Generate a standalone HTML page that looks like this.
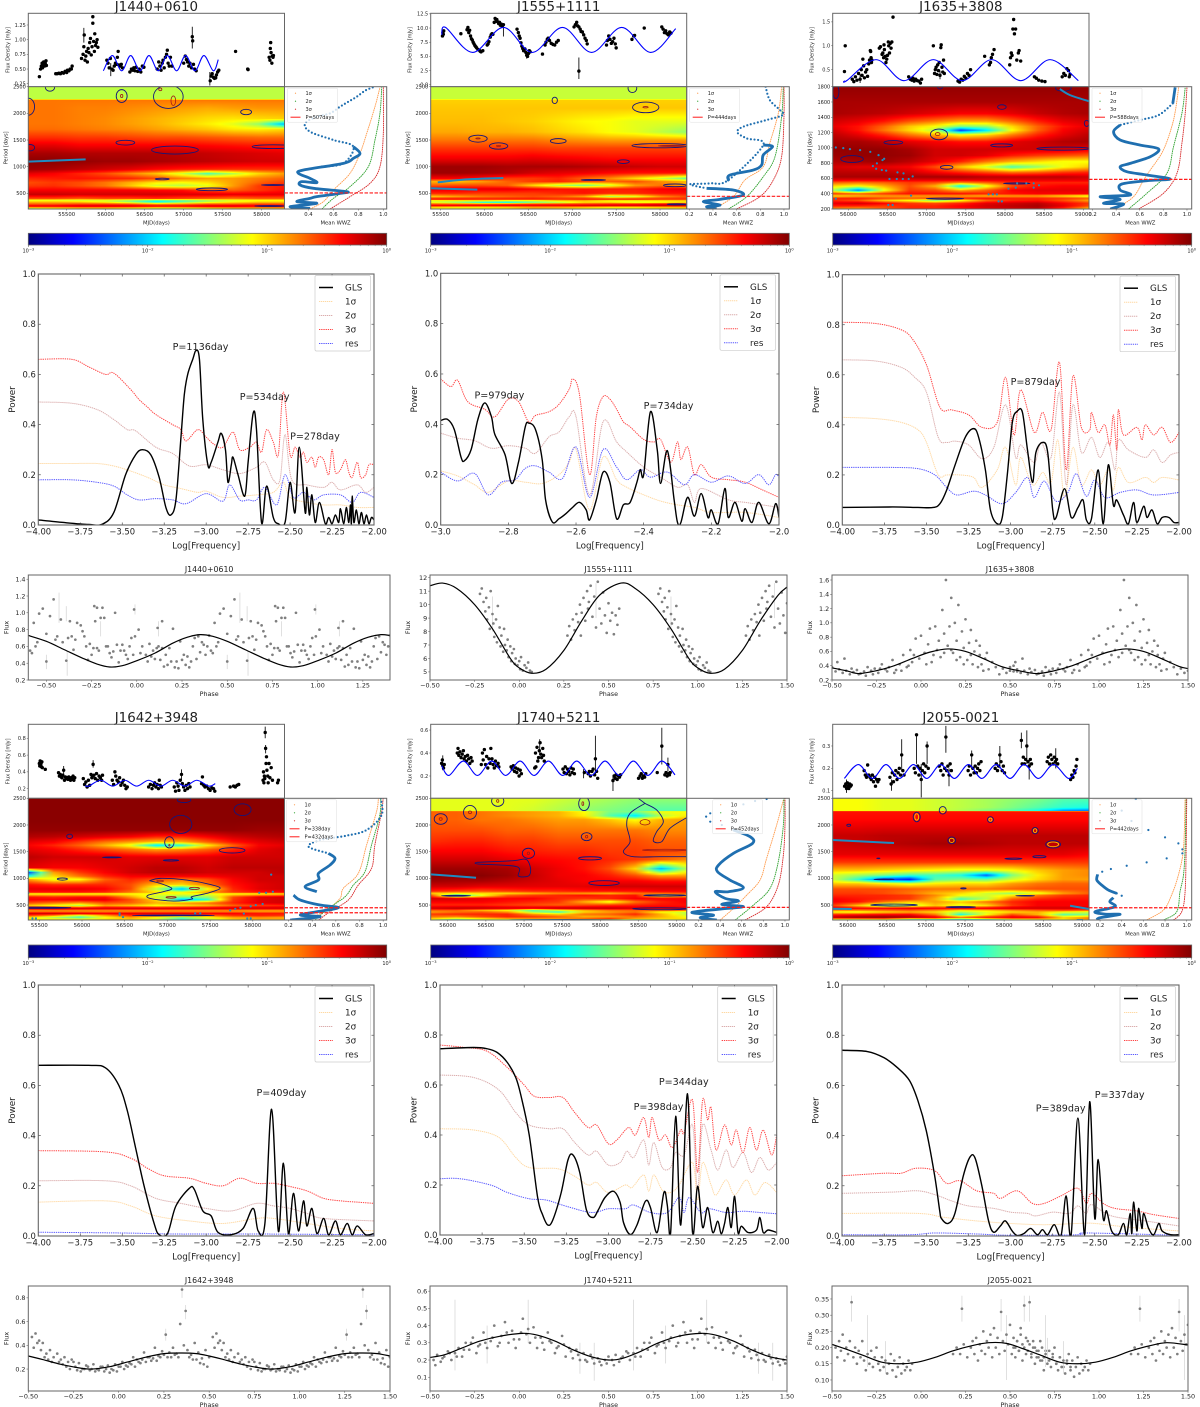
<!DOCTYPE html>
<html><head><meta charset="utf-8"><title>WWZ and GLS periodicity panels</title>
<style>html,body{margin:0;padding:0;background:#fff}svg{display:block}text{font-family:"DejaVu Sans","Liberation Sans",sans-serif;fill:#222}</style>
</head><body>
<svg id="fig" xmlns="http://www.w3.org/2000/svg" width="1200" height="1407" viewBox="0 0 1200 1407"><defs id="defs"></defs></svg>
<script>
/* ---------- J1440+0610 ---------- */
const j1440Lc=[[55150,.37],[55165,.5],[55175,.55],[55185,.6],[55190,.52],[55200,.57],[55205,.62],[55215,.55],[55225,.6],[55235,.64],[55240,.56],[55360,.42],[55380,.42],[55400,.43],[55420,.42],[55440,.44],[55460,.43],[55480,.46],[55500,.44],[55510,.48],[55530,.47],[55545,.5],[55560,.5],[55570,.55],[55690,.68],[55710,.75],[55720,.88],[55725,1.08],[55735,.65],[55745,.72],[55755,.8],[55765,.62],[55775,.85],[55785,.78],[55795,.95],[55805,1.02],[55815,.74],[55825,.88],[55835,1.39],[55835,1.28],[55845,.97],[55855,.8],[55860,1.1],[55870,.9],[55880,.95],[55890,1.0],[55900,.87],[56015,.65],[56030,.6],[56045,.52],[56060,.68],[56080,.5],[56095,.48],[56110,.55],[56125,.6],[56140,.58],[56150,.7],[56160,.8],[56170,.57],[56185,.55],[56200,.58],[56215,.52],[56310,.45],[56330,.5],[56345,.48],[56360,.52],[56375,.47],[56390,.53],[56410,.46],[56430,.5],[56450,.45],[56470,.55],[56490,.53],[56660,.5],[56680,.62],[56695,.55],[56710,.48],[56725,.6],[56735,.65],[56750,.52],[56765,.7],[56780,.75],[56790,.82],[56800,.6],[56815,.55],[56830,.7],[56850,.55],[57000,.6],[57020,.72],[57035,.66],[57050,.62],[57065,.55],[57080,.6],[57100,.52],[57110,1.05],[57115,.98],[57125,.58],[57140,.5],[57160,.47],[57340,.3],[57350,.38],[57365,.42],[57380,.36],[57395,.34],[57410,.35],[57420,.4],[57435,.45],[57450,.48],[57665,.8],[57820,.5],[57825,.49],[58095,.7],[58105,.65],[58110,.85],[58115,.95],[58120,.78],[58130,.6],[58135,.72],[58145,.7],[58150,.73]];
const j1440LcErr=[[57110,.85,1.22],[57335,.22,.45],[55720,.95,1.2],[56065,.38,.6]];
const j1440Sine=[[55970,.47],[56085,.73],[56205,.47],[56320,.73],[56440,.47],[56555,.73],[56674,.47],[56790,.73],[56909,.47],[57024,.73],[57144,.47],[57259,.73],[57379,.47],[57443,.66]];
const j1440HmPeriods=[2500,2270,2250,2100,1900,1800,1700,1550,1400,1250,1100,950,870,780,700,640,560,480,400,370,340,300,260,230,206];
const j1440HmRows=[[56],[56],[76],[76,76,75,75,74,73,72,71,72,73,73],[76,76,75,74,72,70,68,66,65,66,67],[76,76,75,74,72,70,67,64,60,52,30],[77,77,76,75,74,72,70,68,65,64,66],[83,83,82,82,81,80,80,79,78,77,77],[90,90,88,88,88,88,88,87,86,85,85],[96,96,95,95,95,95,94,93,92,91,90],[99,99,98,97,97,96,95,94,93,92,92],[97,96,94,92,90,87,85,84,83,83,83],[90,88,84,80,74,68,58,45,55,66,72],[84,85,86,85,84,80,75,72,72,75,78],[80,82,80,76,70,64,62,65,72,78,82],[82,83,80,76,68,58,55,60,72,82,85],[88,88,88,88,88,87,86,80,78,82,86],[93,93,92,92,92,92,91,91,90,90,90],[80,80,78,80,80,82,80,78,76,78,78],[60,60,58,60,55,48,50,55,60,62,62],[68,68,66,60,50,35,45,55,62,66,66],[78,78,80,80,78,72,74,78,78,80,80],[90,90,92,92,92,90,90,92,92,90,90],[68,70,72,72,70,66,68,72,74,74,74],[48,60,66,66,60,55,55,60,66,66,66]];
const j1440Contours=[[55286,2490,60,75],[56205,2325,70,120],[55008,2125,80,160],[56803,2312,190,220],[57800,2025,70,50],[56252,1450,120,45],[55030,1356,60,60],[56888,1312,300,75],[58147,1375,270,35],[56725,769,90,15],[57362,575,200,25],[58147,656,150,8],[58100,262,190,8]];
const j1440Inner=[[56867,2237,30,90],[56700,2450,20,25],[56205,2325,15,30]];
const j1440Polys=[];
const j1440Ridges=[[[55008,1094],[55743,1137]]];
const j1440RidgeDots=[];
const j1440WwzDots=[[.915,2487],[.853,2425],[.787,2312],[.72,2219],[.653,2125],[.573,2000],[.467,1937],[.373,1812],[.413,1656],[.6,1500],[.76,1375],[.68,1062],[.493,1000]];
const j1440WwzLine=[[.76,1375],[.813,1250],[.76,1156],[.68,1062],[.36,937],[.32,875],[.413,781],[.467,700],[.347,719],[.333,656],[.44,594],[.707,531],[.653,500],[.467,437],[.413,406],[.307,344],[.467,312],[.253,250],[.413,219]];
const j1440Sig1=[[.413,206],[.52,344],[.6,562],[.733,875],[.813,1250],[.867,1625],[.933,2125],[.973,2487]];
const j1440Sig2=[[.507,206],[.6,406],[.733,625],[.88,1000],[.933,1500],[.973,2000],[.987,2487]];
const j1440Sig3=[[.573,206],[.733,437],[.893,687],[.973,1000],[1,1625],[1,2487]];
const j1440Dash=[507];
const j1440Gls=[[-4,.02],[-3.85,.01],[-3.7,.002],[-3.62,.003],[-3.55,.05],[-3.48,.2],[-3.42,.28],[-3.38,.3],[-3.33,.28],[-3.28,.19],[-3.24,.07],[-3.21,.04],[-3.18,.1],[-3.15,.35],[-3.13,.52],[-3.11,.6],[-3.08,.66],[-3.06,.695],[-3.04,.66],[-3.02,.42],[-2.99,.24],[-2.97,.25],[-2.93,.33],[-2.91,.365],[-2.885,.3],[-2.87,.17],[-2.85,.24],[-2.84,.27],[-2.81,.2],[-2.77,.115],[-2.75,.25],[-2.72,.445],[-2.7,.38],[-2.67,.01],[-2.64,.155],[-2.6,.03],[-2.57,.005],[-2.53,.01],[-2.5,.17],[-2.47,.05],[-2.445,.31],[-2.41,.05],[-2.4,.15],[-2.385,.04],[-2.37,.12],[-2.35,.01],[-2.325,.09],[-2.29,.005],[-2.27,.03],[-2.25,.005],[-2.23,.04],[-2.21,.01],[-2.2,.065],[-2.18,.005],[-2.165,.07],[-2.15,.01],[-2.14,.08],[-2.135,.005],[-2.13,.115],[-2.12,.01],[-2.105,.06],[-2.09,.005],[-2.075,.05],[-2.06,.005],[-2.045,.04],[-2.03,.005],[-2.015,.03],[-2,.02]];
const j1440Gls1=[[-4,.245],[-3.8,.245],[-3.65,.245],[-3.55,.235],[-3.45,.215],[-3.35,.19],[-3.25,.16],[-3.15,.145],[-3.05,.13],[-3,.135],[-2.9,.11],[-2.8,.115],[-2.7,.12],[-2.6,.13],[-2.54,.17],[-2.5,.11],[-2.4,.09],[-2.3,.08],[-2.2,.08],[-2.1,.07],[-2,.07]];
const j1440Gls2=[[-4,.49],[-3.8,.485],[-3.65,.46],[-3.55,.42],[-3.47,.38],[-3.42,.375],[-3.3,.31],[-3.2,.285],[-3.1,.235],[-3,.24],[-2.9,.22],[-2.8,.205],[-2.7,.23],[-2.65,.25],[-2.6,.18],[-2.56,.18],[-2.53,.36],[-2.49,.18],[-2.4,.16],[-2.3,.15],[-2.25,.17],[-2.2,.14],[-2.1,.16],[-2.05,.13],[-2,.15]];
const j1440Gls3=[[-4,.66],[-3.8,.66],[-3.7,.63],[-3.6,.6],[-3.55,.605],[-3.45,.54],[-3.4,.5],[-3.35,.47],[-3.3,.44],[-3.2,.4],[-3.15,.38],[-3.12,.335],[-3.05,.38],[-3,.35],[-2.95,.32],[-2.9,.31],[-2.84,.37],[-2.8,.3],[-2.74,.31],[-2.7,.33],[-2.67,.29],[-2.64,.38],[-2.6,.33],[-2.57,.28],[-2.54,.53],[-2.5,.28],[-2.47,.31],[-2.44,.27],[-2.42,.29],[-2.4,.25],[-2.37,.27],[-2.35,.23],[-2.33,.27],[-2.3,.26],[-2.27,.2],[-2.25,.3],[-2.23,.21],[-2.2,.22],[-2.17,.26],[-2.15,.21],[-2.13,.19],[-2.1,.25],[-2.08,.19],[-2.05,.2],[-2.03,.24],[-2,.24]];
const j1440GlsRes=[[-4,.18],[-3.8,.18],[-3.65,.17],[-3.55,.155],[-3.47,.12],[-3.4,.1],[-3.3,.105],[-3.2,.1],[-3.12,.085],[-3,.125],[-2.9,.095],[-2.86,.16],[-2.8,.1],[-2.75,.1],[-2.7,.1],[-2.65,.15],[-2.58,.08],[-2.53,.2],[-2.48,.11],[-2.42,.13],[-2.36,.1],[-2.3,.12],[-2.2,.12],[-2.13,.09],[-2.08,.13],[-2,.11]];
const j1440Peaks=[["P=1136day",-3.2,.697],["P=534day",-2.8,.498],["P=278day",-2.5,.34]];
const j1440Phase=[[-.59,.55],[-.58,.52],[-.57,.88],[-.56,.6],[-.55,.65],[-.54,.99],[-.52,1.05],[-.5,.75],[-.48,.96],[-.46,1.16],[-.45,.68],[-.44,.72],[-.42,.92],[-.41,.65],[-.39,.43],[-.38,.7],[-.37,.9],[-.35,.56],[-.34,.68],[-.33,.88],[-.31,.85],[-.3,.78],[-.29,.72],[-.27,.44],[-.26,.63],[-.25,.5],[-.235,1.08],[-.22,1.06],[-.2,.94],[-.19,1.06],[-.18,.94],[-.17,.6],[-.16,.6],[-.15,.52],[-.13,.54],[-.12,1.0],[-.1,.41],[-.08,.62],[-.06,.5],[-.05,.45],[-.03,.7],[-.01,.72],[.01,.8],[.03,.6],[.05,.5],[.07,.63],[.09,.55],[.1,.45],[.12,.6],[.14,.58],[.16,.5],[.18,.58],[.2,.81],[.22,.42],[.24,.66],[.26,.5],[.28,.48],[.3,.42],[.32,.7],[.34,.72],[.36,.65],[.38,.5],[.4,.73],[-.28,.6],[-.24,.58],[-.22,.58],[-.21,.55],[-.14,.47],[-.11,.62],[-.09,.55],[-.07,.55],[-.04,.6],[-.02,.5],[.02,.52],[.06,.42],[.08,.48],[.11,.58],[.13,.44],[.15,.36],[.17,.38],[.19,.42],[.21,.35],[.23,.34],[.25,.44],[.27,.38],[.29,.35],[.31,.6],[.33,.45],[.35,.53],[.37,.62],[.39,.6],[-.5,.42],[-.36,.72],[-.23,.9],[-.015,1.04],[.115,.82],[.14,.9]];
const j1440PhaseErr=[[-.5,.33,.5],[-.43,.88,1.24],[-.385,.25,.55],[-.39,.9,1.08],[-.01,.98,1.1],[.12,.72,.9],[-.2,.72,.9]];
const j1440PhaseCurve=[[-.6,.73],[-.5,.66],[-.4,.56],[-.3,.46],[-.22,.39],[-.15,.355],[-.08,.37],[0,.43],[.1,.52],[.2,.64],[.28,.71],[.35,.74],[.42,.72],[.5,.66],[.6,.56],[.7,.46],[.78,.39],[.85,.355],[.92,.37],[1,.43],[1.1,.52],[1.2,.64],[1.28,.71],[1.35,.74],[1.4,.73]];
/* ---------- J1555+1111 ---------- */
const j1555Lc=[[55520,8.6],[55525,9.2],[55530,8.9],[55535,9.5],[55730,9],[55800,9.7],[55810,10.1],[55820,9.2],[55830,9.6],[55840,8.6],[55850,8.1],[55860,7.9],[55870,7.5],[55880,7.2],[55890,6.9],[55900,6.7],[55910,6.5],[55925,6.2],[55940,6.1],[55950,5.9],[55960,5.8],[55980,6],[56030,7],[56040,7.2],[56050,7.6],[56065,8.4],[56075,8.8],[56085,9],[56095,8.9],[56110,11],[56120,11.7],[56130,11.2],[56140,11.5],[56150,11.1],[56160,10.8],[56170,11],[56180,10.5],[56190,10.7],[56200,10.3],[56215,10.6],[56370,9.8],[56385,9.2],[56395,8.6],[56405,8.2],[56415,7.4],[56425,6.8],[56435,6.4],[56445,6],[56460,6.3],[56470,5.7],[56480,5.2],[56490,5],[56500,5.5],[56510,6],[56520,5.8],[56660,5.4],[56690,7],[56700,7.5],[56715,8],[56725,8.2],[56740,7.8],[56760,7.3],[56780,7.1],[56800,7],[56820,7.5],[56840,7.8],[57020,10.2],[57035,10.6],[57050,11],[57060,10.4],[57075,10.2],[57090,9.8],[57100,9.4],[57115,9.3],[57130,8.8],[57145,8.2],[57160,7.8],[57170,7.2],[57075,2.4],[57390,7],[57400,7.8],[57415,8.6],[57430,8],[57445,7.3],[57460,7.6],[57475,8.2],[57490,7.2],[57500,6.5],[57680,8],[57700,8.6],[57710,8.7],[57820,10],[58020,10.2],[58035,9.8],[58050,9.2],[58065,9.5],[58080,9],[58095,8.8],[58110,9.3],[58125,9.1]];
const j1555LcErr=[[57075,1,4.8],[56215,8.5,10.8],[56480,4.6,5.8]];
const j1555Sine=[[55511,8.8],[55557,10.1],[55865,5.7],[56214,10.1],[56544,5.7],[56887,10.1],[57220,5.7],[57563,10.1],[57893,5.7],[58179,9.9]];
const j1555HmPeriods=[2500,2270,2250,2100,1850,1650,1500,1350,1150,1000,880,780,720,650,580,500,440,390,360,330,300,270,240,206];
const j1555HmRows=[[57],[57],[67],[68],[69,69,69,68,67,65,63,62,60,60,60],[71,71,70,70,69,67,65,62,60,56,52],[76,76,76,76,76,74,73,72,72,72,72],[82,82,82,82,82,81,81,81,81,81,81],[89,89,89,89,90,89,88,87,87,87,87],[97,97,97,96,96,96,95,94,93,92,92],[97,97,96,95,92,90,89,87,86,86,86],[88,88,86,82,82,84,78,74,66,58,48],[70,68,72,78,82,84,80,78,80,74,70],[78,80,80,78,66,55,48,58,72,76,70],[90,90,90,90,88,86,86,85,85,88,90],[84,84,82,82,82,84,86,84,84,86,86],[68,72,76,78,80,78,72,55,60,74,80],[88,88,86,86,86,84,86,86,86,84,84],[58,60,62,58,58,66,68,62,62,64,66],[62,52,40,38,48,55,66,66,60,62,66],[78,78,78,80,82,82,82,84,85,88,88],[88,88,88,88,88,88,90,90,90,92,92],[68,66,66,68,72,72,70,66,66,68,70],[62,60,60,62,70,66,60,58,60,64,64]];
const j1555Contours=[[56800,2244,30,60],[57685,2470,50,80],[57837,2112,150,100],[55925,1525,105,65],[56160,1387,105,60],[56840,1481,90,45],[57582,1094,68,35],[57240,750,140,10],[58000,1394,320,40],[58170,650,130,25],[58190,294,110,10]];
const j1555Inner=[[55925,1530,25,10],[56160,1390,25,10],[57835,2115,30,12],[58130,1390,150,8]];
const j1555Polys=[];
const j1555Ridges=[[[55466,706],[55796,762],[56214,787]],[[55386,594],[55918,569]]];
const j1555RidgeDots=[];
const j1555WwzDots=[[.845,2500],[.88,2250],[.966,2062],[.99,1969],[.853,1875],[.656,1750],[.606,1644],[.685,1531],[.825,1406],[.53,750],[.375,687],[.206,669],[.346,594]];
const j1555WwzLine=[[.825,1406],[.904,1375],[.825,1219],[.811,1031],[.74,937],[.544,844],[.53,750],[.53,800]];
const j1555WwzLine2=[[.346,594],[.57,562],[.656,469],[.46,387],[.318,344],[.46,281],[.346,250],[.43,206]];
const j1555Sig1=[[.403,206],[.572,437],[.67,750],[.825,1000],[.88,1437],[.952,2000],[.98,2487]];
const j1555Sig2=[[.53,206],[.685,437],[.825,812],[.924,1187],[.98,1937],[.994,2487]];
const j1555Sig3=[[.6,206],[.797,437],[.91,750],[.98,1187],[1,1937],[1,2487]];
const j1555Dash=[444];
const j1555Gls=[[-3,.415],[-2.98,.42],[-2.96,.38],[-2.94,.27],[-2.93,.255],[-2.91,.3],[-2.89,.42],[-2.87,.485],[-2.85,.43],[-2.84,.36],[-2.81,.28],[-2.79,.165],[-2.77,.25],[-2.75,.39],[-2.74,.405],[-2.72,.38],[-2.7,.26],[-2.69,.1],[-2.67,.012],[-2.65,.025],[-2.63,.045],[-2.61,.07],[-2.59,.09],[-2.57,.06],[-2.56,.02],[-2.54,.1],[-2.52,.21],[-2.5,.17],[-2.48,.025],[-2.46,.08],[-2.44,.09],[-2.42,.17],[-2.41,.22],[-2.4,.2],[-2.38,.45],[-2.36,.3],[-2.35,.165],[-2.33,.295],[-2.31,.1],[-2.3,.01],[-2.29,.01],[-2.27,.11],[-2.25,.035],[-2.23,.125],[-2.21,.03],[-2.2,.06],[-2.18,.005],[-2.16,.145],[-2.15,.03],[-2.13,.09],[-2.11,.015],[-2.1,.065],[-2.08,.01],[-2.06,.09],[-2.03,.005],[-2.01,.085],[-2,.03]];
const j1555Gls1=[[-3,.215],[-2.95,.195],[-2.9,.16],[-2.86,.13],[-2.8,.175],[-2.75,.17],[-2.7,.165],[-2.65,.2],[-2.62,.25],[-2.6,.3],[-2.56,.06],[-2.52,.27],[-2.48,.18],[-2.45,.15],[-2.4,.12],[-2.35,.095],[-2.3,.08],[-2.25,.07],[-2.2,.05],[-2.1,.05],[-2,.03]];
const j1555Gls2=[[-3,.365],[-2.95,.345],[-2.9,.335],[-2.85,.305],[-2.8,.315],[-2.75,.305],[-2.72,.285],[-2.68,.35],[-2.65,.37],[-2.62,.43],[-2.6,.43],[-2.56,.12],[-2.52,.41],[-2.48,.33],[-2.45,.29],[-2.4,.23],[-2.35,.19],[-2.3,.15],[-2.27,.16],[-2.25,.09],[-2.23,.145],[-2.15,.1],[-2.1,.09],[-2.05,.08],[-2,.07]];
const j1555Gls3=[[-3,.58],[-2.97,.55],[-2.95,.575],[-2.92,.49],[-2.87,.46],[-2.84,.43],[-2.8,.5],[-2.77,.49],[-2.74,.41],[-2.72,.435],[-2.68,.45],[-2.65,.48],[-2.62,.54],[-2.61,.58],[-2.59,.52],[-2.56,.2],[-2.54,.43],[-2.52,.51],[-2.5,.5],[-2.48,.46],[-2.46,.41],[-2.44,.39],[-2.4,.34],[-2.37,.33],[-2.35,.34],[-2.32,.25],[-2.3,.33],[-2.29,.26],[-2.27,.31],[-2.25,.2],[-2.23,.24],[-2.2,.19],[-2.15,.18],[-2.1,.17],[-2.05,.14],[-2,.11]];
const j1555GlsRes=[[-3,.21],[-2.95,.175],[-2.9,.205],[-2.86,.12],[-2.82,.17],[-2.78,.18],[-2.75,.225],[-2.72,.235],[-2.68,.21],[-2.64,.185],[-2.6,.31],[-2.56,.11],[-2.52,.3],[-2.48,.23],[-2.45,.18],[-2.41,.22],[-2.38,.19],[-2.33,.21],[-2.28,.16],[-2.25,.2],[-2.2,.17],[-2.15,.195],[-2.1,.165],[-2.06,.2],[-2.03,.16],[-2.01,.2],[-2,.19]];
const j1555Peaks=[["P=979day",-2.9,.503],["P=734day",-2.4,.46]];
const j1555Phase=[[-.22,10.8],[-.21,11.2],[-.2,10.2],[-.19,9.5],[-.185,10.5],[-.18,8.9],[-.17,9.8],[-.165,8.2],[-.16,11],[-.15,9.3],[-.145,8.6],[-.14,7.6],[-.13,8.9],[-.125,7.2],[-.12,9.9],[-.11,8.3],[-.105,6.9],[-.1,7.7],[-.09,6.5],[-.085,8.2],[-.08,7],[-.07,6.6],[-.065,7.4],[-.06,6.1],[-.05,6.9],[-.045,5.8],[-.04,6.4],[-.03,6.7],[-.025,5.6],[-.02,6],[-.01,5.5],[0,5.8],[.005,5.2],[.01,6.1],[.02,5.1],[.03,5.5],[.04,5.3],[.05,5.7],[.06,5.1],[.07,5],[.27,7.7],[.28,8.4],[.29,7.4],[.3,8.9],[.31,8.1],[.32,9.3],[.33,8.7],[.34,10],[.345,7.7],[.35,9.4],[.36,10.5],[.37,8.8],[.38,11],[.385,9.7],[.39,10.2],[.4,11.4],[.41,9.1],[.42,10.6],[.43,8.3],[.44,11.7],[.45,9.7],[.46,8.6],[.47,10.9],[.48,9.2],[.49,7.9],[.5,10.1],[.51,8.8],[.52,9.4],[.53,7.8],[.54,9.2],[.55,8.5],[.56,9.7]];
const j1555PhaseErr=[[-.15,8,10.6],[.43,9,11.6]];
const j1555PhaseCurve=[[-.5,11.4],[-.43,11.6],[-.35,11.2],[-.25,10],[-.15,8.2],[-.05,6],[0,5.3],[.07,4.9],[.15,5.2],[.25,6.6],[.35,8.8],[.45,10.7],[.57,11.6],[.65,11.2],[.75,10],[.85,8.2],[.95,6],[1,5.3],[1.07,4.9],[1.15,5.2],[1.25,6.6],[1.35,8.8],[1.45,10.7],[1.5,11.3]];
/* ---------- J1635+3808 ---------- */
const j1635Lc=[[55950,.46],[55960,1],[56050,.3],[56070,.25],[56090,.35],[56110,.28],[56130,.42],[56150,.3],[56165,.5],[56175,.38],[56185,.72],[56195,.58],[56205,.33],[56220,.45],[56235,.5],[56245,.36],[56260,.62],[56270,.7],[56280,.9],[56285,.88],[56290,.75],[56295,.65],[56300,.7],[56395,.95],[56410,.98],[56430,.82],[56440,.85],[56450,.75],[56455,1.02],[56460,.92],[56470,.78],[56480,.65],[56490,.72],[56500,.8],[56510,1.08],[56515,1],[56525,.85],[56535,1.05],[56545,.95],[56555,1.08],[56570,1.6],[56770,.35],[56790,.3],[56810,.28],[56825,.32],[56840,.26],[56860,.3],[56880,.27],[56900,.26],[56920,.22],[56935,.3],[57085,1],[57100,.42],[57110,.5],[57120,.55],[57130,.4],[57140,.6],[57150,.48],[57160,.65],[57170,.38],[57180,.96],[57185,1.02],[57195,.55],[57205,.45],[57215,.7],[57225,.42],[57400,.26],[57420,.24],[57440,.3],[57460,.28],[57480,.36],[57500,.32],[57520,.42],[57540,.38],[57560,.5],[57740,.78],[57800,.6],[57815,.65],[57825,.75],[57840,.82],[57860,.92],[58060,.6],[58070,.75],[58080,.85],[58090,.8],[58100,1.35],[58110,1.55],[58120,1.25],[58135,1.35],[58150,.7],[58170,.85],[58180,.9],[58200,.68],[58375,.35],[58400,.32],[58430,.28],[58470,.26],[58510,.25],[58730,.35],[58750,.42],[58770,.38],[58790,.52],[58810,.48],[58820,.35],[58830,.4]];
const j1635LcErr=[[56150,.22,.4],[57170,.3,.48]];
const j1635Sine=[[55945,.27],[55979,.27],[56353,.71],[56710,.27],[57085,.71],[57455,.27],[57830,.71],[58200,.27],[58574,.71],[58936,.27]];
const j1635HmPeriods=[1800,1600,1450,1350,1280,1230,1170,1080,980,900,820,750,680,620,580,545,500,445,400,370,340,310,275,240,200];
const j1635HmRows=[[98],[96],[96,95,94,92,90,88,88,90,93,95,96],[92,90,86,80,76,72,72,78,85,90,92],[90,86,78,68,62,50,52,66,78,86,90],[92,86,76,66,55,18,35,62,78,88,92],[94,90,84,76,70,62,66,75,84,90,94],[96,96,94,90,88,86,86,90,92,95,96],[98,98,98,96,92,92,92,92,92,92,90],[97,98,98,97,92,92,90,85,82,80,78],[95,96,97,94,90,84,76,70,66,62,62],[92,90,90,88,80,68,58,45,52,62,68],[94,94,94,92,88,84,80,76,78,82,84],[96,96,96,96,96,96,94,94,94,94,92],[90],[78,76,78,82,80,74,78,84,84,84,84],[66,62,70,80,70,38,60,80,86,88,88],[55,25,60,82,80,70,78,88,90,90,90],[82,78,82,86,86,86,84,86,88,88,88],[66,70,72,72,72,72,70,72,72,66,60],[84,84,80,78,80,84,86,84,84,82,78],[84,80,68,62,50,62,78,84,86,80,72],[90,92,88,82,80,84,90,92,94,88,82],[85,84,82,84,84,88,92,94,96,90,80],[72,70,78,84,84,86,90,92,94,82,66]];
const j1635Contours=[[55840,1735,40,90],[57960,1534,55,30],[57157,1176,110,70],[56574,1070,120,25],[57957,1032,140,20],[56047,854,145,45],[57255,745,80,25],[58745,990,340,20],[58745,1780,100,40],[57170,1790,30,20],[59042,1320,30,40],[58150,535,170,8],[57234,335,240,8]];
const j1635Inner=[[57140,1180,30,20]];
const j1635Polys=[];
const j1635Ridges=[[[58700,1770],[58830,1690],[59072,1610]]];
const j1635RidgeDots=[[55840,1005],[55935,996],[56020,983],[56150,970],[56280,948],[56385,905],[56457,857],[56436,840],[56364,797],[56313,762],[56355,727],[56427,710],[56483,702],[56525,592],[56618,592],[56627,679],[56704,666],[56695,592],[56770,592],[56821,627],[56800,375],[56510,252],[56565,252],[57790,392],[57845,392],[57896,392],[57917,300],[57960,300],[58154,535],[58272,535],[58366,535],[58434,510],[58044,466],[58137,480],[58366,480],[55840,335]];
const j1635WwzDots=[[.88,1582],[.76,1429],[.6,1364],[.434,1299]];
const j1635WwzLine=[[.9,1791],[.88,1582]];
const j1635WwzLine2=[[.434,1299],[.378,1211],[.434,1102],[.6,1037],[.76,985],[.689,884],[.519,797],[.434,753],[.49,688],[.66,645],[.858,592],[.66,570],[.449,527],[.434,448],[.519,383],[.265,361],[.434,326],[.293,274],[.463,265],[.35,200]];
const j1635Sig1=[[.392,200],[.547,361],[.632,579],[.689,710],[.8,972],[.886,1364],[.93,1791]];
const j1635Sig2=[[.505,200],[.66,405],[.83,667],[.886,1015],[.957,1451],[.985,1791]];
const j1635Sig3=[[.59,200],[.8,405],[.915,667],[.957,1059],[.985,1451],[1,1791]];
const j1635Dash=[588];
const j1635Gls=[[-4,.07],[-3.7,.072],[-3.55,.07],[-3.46,.07],[-3.42,.085],[-3.38,.14],[-3.33,.24],[-3.27,.35],[-3.22,.385],[-3.19,.35],[-3.15,.22],[-3.12,.06],[-3.08,.005],[-3.05,.03],[-3.02,.2],[-2.99,.41],[-2.96,.455],[-2.93,.45],[-2.9,.3],[-2.87,.17],[-2.85,.29],[-2.81,.33],[-2.78,.29],[-2.75,.06],[-2.73,.03],[-2.68,.145],[-2.64,.03],[-2.6,.07],[-2.57,.1],[-2.55,.02],[-2.52,.025],[-2.48,.22],[-2.45,.005],[-2.42,.24],[-2.39,.08],[-2.37,.1],[-2.33,.04],[-2.3,.005],[-2.27,.09],[-2.25,.01],[-2.21,.075],[-2.19,.03],[-2.16,.06],[-2.13,.005],[-2.1,.03],[-2.06,.03],[-2.03,.01],[-2,.01]];
const j1635Gls1=[[-4,.43],[-3.8,.425],[-3.65,.41],[-3.55,.38],[-3.5,.33],[-3.43,.2],[-3.38,.2],[-3.3,.2],[-3.22,.19],[-3.17,.15],[-3.08,.22],[-3.03,.31],[-2.97,.16],[-2.94,.27],[-2.87,.16],[-2.81,.21],[-2.76,.17],[-2.72,.34],[-2.68,.11],[-2.63,.31],[-2.58,.16],[-2.52,.22],[-2.47,.16],[-2.42,.22],[-2.39,.14],[-2.36,.23],[-2.3,.17],[-2.2,.19],[-2.15,.17],[-2.1,.19],[-2,.18]];
const j1635Gls2=[[-4,.66],[-3.8,.655],[-3.65,.63],[-3.57,.59],[-3.5,.53],[-3.43,.35],[-3.38,.33],[-3.33,.335],[-3.25,.32],[-3.17,.265],[-3.1,.31],[-3.03,.48],[-2.97,.27],[-2.94,.32],[-2.86,.25],[-2.82,.33],[-2.76,.27],[-2.71,.53],[-2.67,.16],[-2.63,.48],[-2.58,.29],[-2.52,.35],[-2.47,.27],[-2.42,.33],[-2.38,.22],[-2.36,.34],[-2.3,.3],[-2.2,.27],[-2.15,.3],[-2.1,.25],[-2.05,.28],[-2,.29]];
const j1635Gls3=[[-4,.81],[-3.8,.805],[-3.65,.78],[-3.58,.74],[-3.5,.64],[-3.42,.47],[-3.35,.46],[-3.25,.44],[-3.17,.39],[-3.08,.41],[-3.03,.59],[-2.98,.36],[-2.94,.54],[-2.86,.37],[-2.81,.45],[-2.76,.38],[-2.71,.65],[-2.67,.22],[-2.63,.595],[-2.58,.39],[-2.53,.38],[-2.52,.45],[-2.48,.37],[-2.44,.4],[-2.41,.32],[-2.39,.44],[-2.37,.3],[-2.36,.46],[-2.33,.36],[-2.25,.39],[-2.22,.34],[-2.2,.4],[-2.15,.36],[-2.1,.39],[-2.05,.33],[-2,.37]];
const j1635GlsRes=[[-4,.23],[-3.7,.23],[-3.55,.225],[-3.45,.2],[-3.38,.15],[-3.32,.12],[-3.22,.135],[-3.15,.12],[-3.05,.085],[-2.97,.13],[-2.9,.19],[-2.86,.11],[-2.8,.175],[-2.73,.095],[-2.66,.13],[-2.61,.205],[-2.55,.115],[-2.5,.18],[-2.44,.11],[-2.35,.13],[-2.25,.14],[-2.15,.12],[-2,.13]];
const j1635Peaks=[["P=879day",-3,.56]];
const j1635Phase=[[-.48,.32],[-.46,.35],[-.44,.3],[-.42,.33],[-.4,.28],[-.38,.31],[-.36,.34],[-.34,.29],[-.32,.32],[-.3,.38],[-.28,.33],[-.26,.36],[-.24,.3],[-.22,.42],[-.2,.35],[-.18,.38],[-.16,.48],[-.14,.34],[-.12,.42],[-.1,.55],[-.08,.38],[-.06,.62],[-.05,.45],[-.03,.78],[-.01,.5],[0,.82],[.02,.58],[.04,.7],[.05,.92],[.06,.45],[.08,.95],[.09,.62],[.1,.75],[.11,.52],[.12,1.18],[.13,.85],[.14,1.6],[.15,.68],[.16,.95],[.17,1.35],[.18,.58],[.19,1.0],[.2,.75],[.21,1.25],[.22,.52],[.23,.88],[.24,.65],[.25,1.05],[.26,.48],[.27,.72],[.28,.9],[.29,.42],[.3,.6],[.31,.75],[.32,.38],[.33,.55],[.34,.42],[.35,.33],[.36,.5],[.38,.35],[.4,.45],[.42,.38],[.44,.28],[.46,.36],[.48,.3],[.5,.33],[.52,.4],[.54,.32],[-.5,.38],[-.47,.45],[-.43,.5],[-.39,.36],[-.35,.28],[-.31,.26],[-.27,.28],[-.23,.36],[-.19,.32],[-.15,.3],[-.11,.33],[-.07,.4],[-.04,.55],[.03,.42],[.07,.55],[.13,.58],[.17,.62],[.2,.48],[.24,.42],[.28,.55],[.33,.68],[.37,.58]];
const j1635PhaseErr=[];
const j1635PhaseCurve=[[-.5,.37],[-.42,.33],[-.35,.29],[-.25,.33],[-.15,.4],[-.05,.5],[.05,.59],[.15,.635],[.25,.6],[.35,.5],[.45,.39],[.55,.33],[.65,.29],[.75,.33],[.85,.4],[.95,.5],[1.05,.59],[1.15,.635],[1.25,.6],[1.35,.5],[1.45,.39],[1.5,.36]];
/* ---------- J1642+3948 ---------- */
const j1642Lc=[[55500,.5],[55505,.47],[55510,.53],[55515,.48],[55520,.5],[55525,.46],[55530,.52],[55535,.45],[55570,.43],[55725,.39],[55735,.35],[55745,.37],[55755,.34],[55765,.33],[55775,.36],[55785,.42],[55795,.3],[55805,.34],[55815,.32],[55825,.33],[55835,.31],[55845,.34],[55855,.32],[55865,.3],[55875,.33],[55885,.31],[55895,.35],[55905,.3],[55915,.33],[56015,.32],[56030,.25],[56045,.28],[56060,.22],[56075,.3],[56090,.24],[56105,.37],[56115,.33],[56125,.35],[56130,.49],[56140,.36],[56155,.32],[56170,.38],[56185,.3],[56200,.35],[56215,.33],[56230,.3],[56240,.36],[56355,.3],[56370,.25],[56385,.4],[56395,.35],[56410,.3],[56425,.28],[56440,.33],[56455,.24],[56470,.27],[56485,.3],[56500,.24],[56515,.2],[56530,.22],[56780,.22],[56800,.25],[56820,.2],[56835,.24],[56850,.27],[56865,.22],[56880,.25],[56895,.2],[56905,.3],[56915,.24],[56930,.22],[57080,.22],[57095,.17],[57110,.27],[57125,.23],[57135,.18],[57150,.3],[57165,.37],[57175,.26],[57190,.22],[57205,.18],[57220,.24],[57235,.2],[57250,.26],[57265,.22],[57400,.26],[57410,.34],[57425,.24],[57440,.22],[57460,.23],[57480,.2],[57500,.18],[57520,.21],[57540,.2],[57555,.17],[57735,.22],[57775,.23],[57795,.22],[57815,.24],[57835,.25],[58120,.3],[58125,.4],[58130,.27],[58135,.35],[58140,.32],[58145,.87],[58150,.68],[58155,.5],[58160,.58],[58165,.42],[58175,.35],[58180,.27],[58190,.5],[58200,.33],[58215,.45],[58230,.3],[58290,.27],[58300,.3]];
const j1642LcErr=[[58145,.8,.94],[58150,.62,.72],[56130,.45,.54],[55785,.36,.47],[57165,.3,.43]];
const j1642Sine=[[56035,.235],[56078,.23],[56219,.3],[56359,.23],[56500,.3],[56640,.23],[56781,.3],[56922,.23],[57062,.3],[57203,.23],[57344,.3],[57484,.23],[57560,.26]];
const j1642HmPeriods=[2500,2100,1900,1780,1680,1620,1540,1400,1200,1110,1040,980,880,800,740,710,650,600,540,490,440,390,340,300,270,220];
const j1642HmRows=[[99],[99],[98,98,98,98,98,98,98,98,98,97,97],[95,94,92,90,88,84,84,88,92,94,95],[90,88,82,76,72,68,70,78,86,90,92],[88,84,78,70,60,36,42,64,78,88,90],[90,88,84,80,76,72,74,78,84,90,92],[94,92,92,92,90,90,90,90,92,92,92],[90,88,88,90,92,94,94,92,94,94,94],[20,72,82,88,92,94,94,92,92,92,94],[40,66,76,84,88,88,88,88,90,92,92],[72,60,62,78,84,80,76,80,88,92,92],[86,84,84,84,80,68,66,76,86,90,92],[90,90,90,88,80,55,30,62,84,90,92],[86,86,86,84,76,66,62,72,82,86,88],[62,62,62,62,62,62,62,62,62,62,66],[86,84,86,86,72,56,50,52,80,90,92],[88,88,90,90,80,66,30,42,82,90,92],[80,76,72,80,78,70,72,76,84,90,92],[68,62,55,72,68,62,66,70,78,82,84],[92,94,92,92,92,92,92,92,92,92,92],[72,72,72,72,72,72,72,72,72,70,70],[92,92,90,88,90,90,90,88,88,86,86],[80,72,55,70,82,78,72,76,82,84,82],[66,55,45,62,72,62,50,62,72,74,72],[62,66,66,66,66,58,40,55,66,70,70]];
const j1642Contours=[[57195,2469,80,50],[57880,2287,100,110],[57156,2012,130,170],[55855,1787,35,40],[57023,1675,55,105],[57758,1525,150,50],[56350,1394,110,8],[57042,1337,90,12],[55770,987,60,20],[55470,450,400,10],[57070,306,480,8]];
const j1642Inner=[[57316,812,60,20],[57043,644,60,15],[56914,950,40,15],[57023,1620,8,15]];
const j1642Polys=[[[56789,956],[56914,1000],[57226,969],[57500,887],[57617,812],[57461,719],[57285,656],[57285,612],[57070,575],[56797,625],[56777,687],[56953,750],[57051,812],[56914,906],[56789,956]]];
const j1642Ridges=[];
const j1642RidgeDots=[[55371,725],[55420,250],[55460,250],[56440,310],[56480,275],[57325,345],[57385,345],[57735,400],[57795,430],[57855,450],[57895,340],[57935,250],[57975,475],[58035,500],[58115,520],[58075,730],[58155,730],[58235,750],[58215,1070],[57975,250],[56440,345]];
const j1642WwzDots=[[.98,2500],[.987,2187],[.86,1906],[.69,1800],[.467,1719],[.369,1594],[.537,1469]];
const j1642WwzLine=[[.537,1469],[.593,1375],[.551,1250],[.453,1094],[.453,969],[.34,844],[.439,750]];
const j1642WwzLine2=[[.242,687],[.3,594],[.467,500],[.621,450],[.439,375],[.3,312],[.467,281],[.214,219]];
const j1642Sig1=[[.354,219],[.523,406],[.635,625],[.663,812],[.79,1094],[.86,1625],[.944,2250],[.96,2500]];
const j1642Sig2=[[.425,219],[.537,437],[.678,656],[.748,875],[.846,1125],[.902,1625],[.972,2187],[.98,2500]];
const j1642Sig3=[[.453,219],[.551,375],[.705,594],[.79,875],[.902,1187],[.93,1625],[.987,2250],[1,2500]];
const j1642Dash=[356,450];
const j1642Gls=[[-4,.68],[-3.7,.68],[-3.6,.67],[-3.52,.6],[-3.47,.5],[-3.42,.35],[-3.37,.2],[-3.31,.05],[-3.28,.005],[-3.23,.01],[-3.18,.12],[-3.1,.19],[-3.07,.185],[-3.02,.1],[-2.97,.08],[-2.93,.015],[-2.85,.005],[-2.78,.03],[-2.72,.11],[-2.69,.02],[-2.65,.05],[-2.61,.505],[-2.57,.02],[-2.54,.29],[-2.51,.01],[-2.48,.17],[-2.45,.02],[-2.42,.14],[-2.4,.04],[-2.37,.11],[-2.34,.01],[-2.3,.07],[-2.27,.005],[-2.23,.06],[-2.2,.005],[-2.16,.05],[-2.13,.005],[-2.1,.04],[-2.05,.005],[-2,.01]];
const j1642Gls1=[[-4,.135],[-3.6,.14],[-3.45,.12],[-3.3,.08],[-3.1,.06],[-2.9,.05],[-2.7,.07],[-2.6,.07],[-2.4,.05],[-2.2,.03],[-2,.02]];
const j1642Gls2=[[-4,.22],[-3.6,.22],[-3.45,.2],[-3.3,.15],[-3.15,.13],[-3,.11],[-2.85,.1],[-2.7,.13],[-2.6,.12],[-2.5,.11],[-2.4,.09],[-2.3,.07],[-2,.06]];
const j1642Gls3=[[-4,.34],[-3.6,.335],[-3.45,.31],[-3.35,.27],[-3.25,.24],[-3.1,.23],[-3,.21],[-2.9,.2],[-2.8,.23],[-2.7,.21],[-2.6,.21],[-2.52,.2],[-2.4,.18],[-2.3,.15],[-2.2,.14],[-2.1,.135],[-2,.13]];
const j1642GlsRes=[[-4,.015],[-3.5,.012],[-3.2,.008],[-3,.008],[-2.7,.008],[-2,.005]];
const j1642Peaks=[["P=409day",-2.7,.558]];
const j1642Phase=[[-.48,.47],[-.46,.5],[-.44,.44],[-.42,.42],[-.4,.33],[-.38,.36],[-.36,.3],[-.34,.33],[-.32,.28],[-.3,.3],[-.28,.26],[-.26,.28],[-.24,.22],[-.22,.25],[-.2,.2],[-.18,.23],[-.16,.19],[-.14,.24],[-.12,.2],[-.1,.22],[-.08,.18],[-.06,.23],[-.04,.2],[-.02,.24],[0,.22],[.02,.26],[.04,.23],[.06,.25],[.08,.3],[.1,.28],[.12,.25],[.14,.34],[.16,.3],[.18,.27],[.2,.38],[.22,.31],[.24,.35],[.26,.49],[.28,.34],[.3,.38],[.32,.33],[.34,.58],[.35,.87],[.36,.4],[.37,.69],[.38,.36],[.4,.32],[.42,.42],[.44,.34],[.46,.29],[.48,.36],[.5,.3],[-.47,.38],[-.45,.42],[-.43,.36],[-.41,.3],[-.39,.28],[-.37,.26],[-.33,.26],[-.31,.24],[-.29,.22],[-.27,.2],[-.25,.26],[-.23,.19],[-.21,.18],[-.19,.2],[-.17,.22],[-.15,.2],[-.13,.18],[-.11,.19],[-.09,.22],[-.07,.2],[-.05,.17],[-.03,.19],[-.01,.18],[.01,.22],[.03,.2],[.05,.22],[.07,.24],[.09,.22],[.11,.26],[.13,.28],[.15,.26],[.17,.3],[.19,.29],[.21,.27],[.23,.3],[.25,.32],[.27,.3],[.29,.3],[.31,.32],[.33,.3],[.39,.3],[.41,.28],[.43,.28],[.45,.25],[.47,.24],[.49,.22]];
const j1642PhaseErr=[[.35,.8,.92],[.37,.62,.74],[.26,.44,.54]];
const j1642PhaseCurve=[[-.5,.31],[-.42,.28],[-.32,.24],[-.22,.21],[-.15,.2],[-.05,.22],[.05,.26],[.15,.3],[.25,.33],[.35,.335],[.43,.33],[.5,.31],[.58,.28],[.68,.24],[.78,.21],[.85,.2],[.95,.22],[1.05,.26],[1.15,.3],[1.25,.33],[1.35,.335],[1.43,.33],[1.5,.31]];
/* ---------- J1740+5211 ---------- */
const j1740Lc=[[55920,.31],[55930,.34],[55935,.29],[55945,.27],[55955,.3],[56125,.4],[56135,.44],[56145,.38],[56160,.41],[56175,.36],[56190,.39],[56205,.42],[56215,.35],[56230,.37],[56245,.33],[56260,.38],[56275,.35],[56290,.31],[56305,.36],[56320,.33],[56440,.3],[56455,.4],[56465,.34],[56480,.43],[56495,.3],[56510,.37],[56525,.27],[56540,.35],[56555,.31],[56565,.44],[56580,.35],[56595,.3],[56610,.27],[56625,.33],[56640,.29],[56660,.31],[56670,.28],[56830,.28],[56845,.26],[56860,.29],[56875,.24],[56890,.27],[56905,.23],[56920,.26],[56935,.2],[56950,.25],[56965,.22],[57140,.27],[57150,.4],[57155,.28],[57170,.45],[57180,.33],[57190,.36],[57200,.42],[57210,.49],[57220,.39],[57230,.36],[57245,.44],[57255,.38],[57265,.33],[57510,.26],[57525,.23],[57540,.28],[57555,.22],[57570,.26],[57585,.24],[57600,.21],[57615,.27],[57630,.23],[57645,.26],[57660,.22],[57790,.23],[57840,.22],[57855,.24],[57870,.2],[57890,.24],[57905,.26],[57925,.21],[57935,.35],[57950,.24],[57965,.18],[58165,.16],[58180,.2],[58195,.18],[58205,.21],[58220,.17],[58235,.2],[58250,.19],[58265,.21],[58500,.18],[58520,.2],[58535,.22],[58550,.18],[58565,.2],[58580,.19],[58595,.22],[58745,.23],[58805,.46],[58845,.21],[58860,.23],[58875,.2],[58885,.3],[58895,.22],[58905,.21],[58915,.23]];
const j1740LcErr=[[57935,.2,.55],[58805,.3,.62],[58885,.24,.36],[58165,.07,.2],[57205,.38,.52],[55935,.25,.38],[57780,.18,.26]];
const j1740Sine=[[55921,.29],[56017,.205],[56205,.33],[56389,.205],[56576,.33],[56760,.205],[56948,.33],[57131,.205],[57319,.33],[57507,.205],[57690,.33],[57878,.205],[58061,.33],[58249,.205],[58432,.33],[58620,.205],[58804,.33],[58978,.21]];
const j1740HmPeriods=[2500,2270,2250,2170,2100,1900,1700,1500,1350,1180,1050,950,850,760,720,680,620,560,500,440,400,370,330,280,240,220];
const j1740HmRows=[[60,60,60,60,60,58,56,54,52,52,52],[60,60,60,60,58,55,52,50,48,46,46],[78,78,76,74,72,70,62,50,50,62,62],[78,78,76,74,72,70,64,46,35,55,64],[78,78,76,76,74,72,72,68,62,70,72],[80,80,80,78,78,76,76,76,76,74,74],[83,84,84,82,82,80,80,80,80,78,78],[88,88,88,86,85,84,84,82,82,80,80],[92,92,92,90,88,87,86,84,82,78,74],[97,97,97,96,92,89,86,80,66,30,55],[99,99,99,97,93,89,88,85,80,72,72],[97,96,96,94,92,90,88,88,88,86,86],[92,92,90,90,90,90,90,92,92,92,92],[84,82,80,82,84,84,86,86,86,88,88],[68,64,66,66,70,74,72,70,76,78,80],[80,40,60,78,82,84,86,84,86,60,70],[92,92,90,88,88,84,82,84,88,88,88],[88,88,88,86,84,82,70,60,76,84,88],[84,84,84,82,80,78,80,82,84,86,86],[92,94,94,92,92,94,94,94,92,90,90],[78,78,70,64,46,60,70,76,78,78,78],[72,76,78,72,52,42,66,72,76,62,56],[82,84,84,84,72,66,76,78,84,70,56],[76,74,80,84,82,78,70,72,76,70,62],[66,56,62,70,72,72,78,84,70,66,66],[58,44,58,50,30,22,35,50,46,56,60]];
const j1740Contours=[[55908,2112,85,100],[56292,2237,85,130],[56655,2450,80,100],[57786,2400,70,130],[57820,1781,70,75],[57057,1469,80,95],[57865,1375,150,30],[58048,912,200,45],[56109,675,190,8],[58847,681,280,12],[58782,431,360,18],[57560,219,900,8]];
const j1740Inner=[[58585,2050,65,50],[55908,2112,20,25],[56292,2237,20,25],[56655,2450,15,25],[57057,1469,15,25],[57820,1781,15,25],[57770,2400,12,35],[58850,1530,300,15]];
const j1740Polys=[[[58498,2500],[58585,2406],[58738,2281],[58825,2062],[58738,1875],[58694,1700],[58804,1687],[58912,1937],[59131,2137]],[[58585,2406],[58389,2219],[58345,2000],[58389,1687],[58301,1500],[58432,1406],[58782,1406],[59131,1406]],[[56380,1300],[56860,1331],[57000,1362],[57057,1312],[57087,1156],[57057,1044],[56926,1044],[56904,1219],[56402,1269],[56380,1300]]];
const j1740Ridges=[[[55777,1075],[56371,1012]]];
const j1740RidgeDots=[];
const j1740WwzDots=[[.83,2487],[.723,2450],[.615,2387],[.308,2219],[.27,2156],[.308,2062],[.415,2000],[.523,1906]];
const j1740WwzLine=[[.523,1906],[.677,1781],[.7,1656],[.523,1469],[.385,1250],[.375,1125],[.49,969],[.615,825],[.477,750],[.354,750],[.446,625],[.569,575],[.415,512],[.615,469],[.4,425],[.138,362],[.338,312],[.215,262],[.369,219]];
const j1740Sig1=[[.4,219],[.523,437],[.646,687],[.769,969],[.83,1375],[.923,2000],[.985,2469]];
const j1740Sig2=[[.538,219],[.708,500],[.861,812],[.938,1312],[.985,2000],[.99,2500]];
const j1740Sig3=[[.63,219],[.83,469],[.938,875],[.985,1437],[1,2000],[1,2500]];
const j1740Dash=[456];
const j1740Gls=[[-4,.745],[-3.8,.75],[-3.72,.745],[-3.66,.73],[-3.6,.69],[-3.55,.63],[-3.52,.56],[-3.47,.4],[-3.42,.15],[-3.39,.08],[-3.36,.04],[-3.33,.06],[-3.28,.17],[-3.24,.3],[-3.21,.32],[-3.17,.25],[-3.13,.1],[-3.09,.07],[-3.06,.1],[-3.02,.15],[-2.97,.175],[-2.93,.13],[-2.91,.05],[-2.87,.002],[-2.83,.04],[-2.78,.135],[-2.75,.11],[-2.71,.01],[-2.67,.17],[-2.65,.12],[-2.63,.01],[-2.6,.475],[-2.57,.04],[-2.53,.565],[-2.5,.01],[-2.47,.195],[-2.44,.03],[-2.41,.11],[-2.38,.01],[-2.35,.055],[-2.33,.005],[-2.31,.045],[-2.29,.11],[-2.27,.03],[-2.25,.155],[-2.23,.01],[-2.21,.035],[-2.17,.01],[-2.12,.02],[-2.1,.07],[-2.08,.01],[-2.05,.02],[-2,.01]];
const j1740Gls1=[[-4,.425],[-3.8,.42],[-3.65,.39],[-3.55,.31],[-3.47,.27],[-3.3,.265],[-3.2,.235],[-3.12,.2],[-3.07,.21],[-3,.17],[-2.9,.2],[-2.86,.19],[-2.79,.24],[-2.76,.175],[-2.73,.24],[-2.68,.18],[-2.63,.17],[-2.58,.2],[-2.5,.29],[-2.47,.14],[-2.44,.29],[-2.39,.2],[-2.36,.16],[-2.3,.22],[-2.25,.16],[-2.18,.22],[-2.13,.16],[-2.07,.21],[-2,.17]];
const j1740Gls2=[[-4,.64],[-3.8,.63],[-3.65,.58],[-3.55,.49],[-3.47,.44],[-3.35,.425],[-3.27,.425],[-3.2,.37],[-3.12,.32],[-3.07,.335],[-3,.28],[-2.93,.29],[-2.89,.335],[-2.85,.31],[-2.79,.38],[-2.76,.28],[-2.73,.37],[-2.68,.27],[-2.63,.27],[-2.6,.33],[-2.55,.32],[-2.5,.44],[-2.47,.18],[-2.44,.44],[-2.39,.34],[-2.35,.26],[-2.3,.34],[-2.26,.27],[-2.2,.33],[-2.15,.25],[-2.1,.31],[-2.05,.26],[-2,.29]];
const j1740Gls3=[[-4,.76],[-3.85,.75],[-3.72,.735],[-3.6,.67],[-3.5,.6],[-3.44,.555],[-3.35,.55],[-3.27,.55],[-3.2,.49],[-3.12,.43],[-3.07,.44],[-3,.365],[-2.95,.38],[-2.88,.43],[-2.84,.4],[-2.79,.47],[-2.76,.39],[-2.74,.47],[-2.7,.38],[-2.66,.4],[-2.62,.35],[-2.57,.42],[-2.55,.41],[-2.5,.54],[-2.47,.25],[-2.44,.54],[-2.41,.46],[-2.39,.51],[-2.36,.34],[-2.31,.44],[-2.27,.36],[-2.24,.42],[-2.2,.33],[-2.16,.43],[-2.12,.34],[-2.08,.42],[-2.03,.32],[-2,.4]];
const j1740GlsRes=[[-4,.225],[-3.88,.225],[-3.7,.2],[-3.6,.17],[-3.47,.145],[-3.37,.14],[-3.25,.115],[-3.1,.09],[-3,.105],[-2.9,.105],[-2.85,.12],[-2.75,.09],[-2.65,.09],[-2.58,.15],[-2.55,.09],[-2.52,.15],[-2.45,.09],[-2.4,.105],[-2.3,.09],[-2.2,.095],[-2.1,.09],[-2,.085]];
const j1740Peaks=[["P=344day",-2.7,.6],["P=398day",-2.85,.5]];
const j1740Phase=[[-.48,.2],[-.46,.23],[-.44,.19],[-.42,.22],[-.4,.25],[-.38,.2],[-.36,.24],[-.34,.27],[-.32,.22],[-.3,.3],[-.28,.26],[-.26,.33],[-.24,.24],[-.22,.29],[-.2,.36],[-.18,.27],[-.16,.31],[-.14,.4],[-.12,.28],[-.1,.34],[-.08,.42],[-.06,.3],[-.04,.37],[-.02,.27],[0,.32],[.02,.44],[.04,.35],[.06,.3],[.08,.39],[.1,.27],[.12,.33],[.14,.26],[.16,.36],[.18,.3],[.2,.24],[.22,.28],[.24,.34],[.26,.22],[.28,.27],[.3,.21],[.32,.26],[.34,.2],[.36,.24],[.38,.19],[.4,.23],[.42,.18],[.44,.21],[.46,.17],[.48,.2],[.5,.22],[-.47,.17],[-.43,.21],[-.39,.24],[-.35,.22],[-.31,.26],[-.27,.3],[-.23,.28],[-.19,.3],[-.15,.33],[-.11,.3],[-.07,.36],[-.03,.32],[.01,.36],[.05,.38],[.09,.33],[.13,.3],[.17,.31],[.21,.27],[.25,.29],[.29,.25],[.33,.23],[.37,.2],[.41,.21],[.45,.19],[.49,.18]];
const j1740PhaseErr=[[-.36,.14,.55],[-.18,.18,.4],[.05,.3,.55],[.34,.12,.3],[.42,.08,.3]];
const j1740PhaseCurve=[[-.5,.215],[-.42,.23],[-.32,.27],[-.22,.31],[-.1,.34],[.02,.355],[.1,.345],[.2,.31],[.3,.26],[.4,.22],[.5,.2],[.58,.21],[.68,.25],[.78,.3],[.9,.34],[1.02,.355],[1.1,.345],[1.2,.31],[1.3,.26],[1.4,.22],[1.5,.2]];
/* ---------- J2055-0021 ---------- */
const j2055Lc=[[55960,.12],[55975,.13],[55985,.11],[55995,.135],[56005,.12],[56015,.11],[56025,.13],[56035,.12],[56045,.125],[56210,.19],[56225,.17],[56240,.16],[56255,.215],[56270,.17],[56285,.16],[56300,.15],[56315,.17],[56330,.14],[56345,.16],[56355,.12],[56370,.15],[56385,.14],[56400,.15],[56540,.16],[56555,.13],[56570,.18],[56585,.14],[56600,.17],[56615,.19],[56630,.15],[56645,.18],[56660,.2],[56675,.17],[56690,.26],[56705,.19],[56720,.17],[56850,.2],[56865,.18],[56880,.35],[56895,.21],[56910,.17],[56925,.2],[56940,.15],[56955,.19],[56970,.22],[56985,.18],[57000,.21],[57015,.3],[57030,.2],[57170,.21],[57190,.19],[57205,.22],[57220,.17],[57240,.2],[57255,.34],[57265,.19],[57280,.21],[57295,.17],[57310,.22],[57325,.19],[57540,.19],[57555,.21],[57570,.17],[57585,.26],[57600,.2],[57615,.18],[57630,.21],[57645,.18],[57660,.2],[57675,.22],[57690,.19],[57705,.23],[57885,.2],[57900,.22],[57915,.19],[57930,.21],[57945,.26],[57960,.23],[57975,.19],[57990,.21],[58005,.18],[58220,.325],[58230,.22],[58245,.25],[58260,.22],[58275,.24],[58290,.3],[58305,.23],[58320,.21],[58335,.24],[58350,.22],[58550,.23],[58565,.25],[58580,.22],[58595,.26],[58610,.24],[58625,.22],[58640,.25],[58655,.23],[58670,.24],[58685,.22],[58850,.15],[58865,.17],[58880,.16],[58895,.19],[58905,.18],[58920,.21],[58930,.24]];
const j2055LcErr=[[55985,.09,.15],[56690,.19,.33],[56880,.22,.355],[56940,.07,.22],[57015,.22,.32],[57255,.27,.39],[57295,.12,.2],[57585,.2,.28],[57945,.2,.3],[58220,.29,.36],[58290,.22,.37],[58320,.15,.24],[58660,.2,.29],[56560,.1,.15]];
const j2055Sine=[[55957,.155],[56136,.217],[56315,.155],[56490,.217],[56661,.155],[56840,.217],[57010,.155],[57189,.217],[57364,.155],[57543,.217],[57714,.155],[57897,.217],[58076,.155],[58255,.217],[58438,.155],[58630,.217],[58822,.155],[58937,.2]];
const j2055HmPeriods=[2500,2330,2270,2250,2100,1800,1650,1450,1300,1150,1060,980,900,800,720,680,610,560,490,440,400,370,320,270,240,220];
const j2055HmRows=[[62,62,60,60,58,56,54,52,50,46,46],[62,62,60,60,58,56,54,50,46,42,40],[62,62,60,60,58,55,50,46,40,28,25],[86],[87],[93,93,94,94,94,94,94,94,94,94,94],[92,93,94,95,96,96,95,94,94,94,94],[90,90,90,90,90,90,90,90,90,90,88],[82],[68,68,66,64,62,60,60,62,68,72,74],[58,54,50,44,44,40,22,50,64,72,74],[58,42,20,15,46,50,48,58,66,72,72],[68,68,64,60,64,66,66,72,76,78,78],[80,80,80,78,76,76,76,78,80,80,80],[82,82,80,76,70,66,58,52,60,72,78],[84,84,84,82,74,62,58,64,76,82,84],[88,86,84,82,70,44,56,78,84,86,86],[88,86,76,68,72,68,76,84,88,88,88],[82,68,50,55,68,60,66,82,88,88,88],[90,88,88,90,88,88,90,92,92,92,92],[74,74,76,78,74,66,68,74,78,80,78],[62,60,66,70,66,55,60,66,70,62,58],[84,86,88,88,76,40,62,80,70,46,50],[94,98,99,96,90,78,86,90,88,66,72],[72,72,74,60,66,48,62,72,72,66,76],[52,50,58,40,30,40,36,50,62,60,68]];
const j2055Contours=[[56013,1994,25,20],[56882,2150,45,90],[57215,2275,45,70],[57825,2100,38,55],[58396,1894,40,60],[57330,1712,50,65],[58626,1637,95,70],[56392,1375,20,5],[58119,1369,110,12],[58451,1406,85,20],[56465,981,130,6],[57479,812,35,10],[58268,675,120,6],[56592,500,300,18],[57445,462,190,10]];
const j2055Inner=[[56882,2150,25,60],[57215,2275,25,45],[57825,2100,20,30],[58396,1894,22,35],[57330,1712,30,40],[58626,1637,70,45]];
const j2055Polys=[];
const j2055Ridges=[[[55808,1719],[56592,1662]],[[55808,431],[56051,425]],[[58843,487],[59085,425]],[[58928,219],[59010,219]]];
const j2055RidgeDots=[];
const j2055WwzDots=[[.53,2487],[.4,2269],[.49,2075],[.646,1906],[.8,1769],[.923,1656],[.96,1544],[.96,1469],[.815,1375],[.63,1300],[.446,1237],[.3,1175],[.22,1125],[.354,719],[.4,675]];
const j2055WwzLine=[[.178,1075],[.17,969],[.215,875],[.277,781],[.354,719]];
const j2055WwzLine2=[[.323,637],[.29,562],[.338,469],[.154,375],[.246,331],[.385,325],[.2,262],[.17,219]];
const j2055Sig1=[[.63,219],[.785,406],[.86,687],[.923,1062],[.97,1562],[.985,2500]];
const j2055Sig2=[[.785,219],[.908,375],[.938,750],[.97,1062],[.985,1562],[.995,2500]];
const j2055Sig3=[[.877,219],[.954,375],[.985,750],[.995,1562],[1,2500]];
const j2055Dash=[450];
const j2055Gls=[[-4,.74],[-3.85,.735],[-3.75,.71],[-3.67,.67],[-3.6,.62],[-3.55,.54],[-3.5,.42],[-3.45,.24],[-3.42,.1],[-3.41,.07],[-3.37,.05],[-3.33,.09],[-3.28,.24],[-3.24,.315],[-3.21,.31],[-3.17,.2],[-3.13,.06],[-3.1,.015],[-3.06,.04],[-3.03,.06],[-2.99,.02],[-2.96,.002],[-2.92,.01],[-2.88,.03],[-2.84,.005],[-2.81,.025],[-2.78,.005],[-2.74,.045],[-2.7,.002],[-2.67,.16],[-2.64,.005],[-2.6,.47],[-2.56,.005],[-2.53,.535],[-2.5,.07],[-2.48,.305],[-2.45,.07],[-2.43,.1],[-2.4,.02],[-2.36,.005],[-2.33,.05],[-2.31,.005],[-2.29,.09],[-2.28,.01],[-2.27,.135],[-2.25,.02],[-2.24,.11],[-2.22,.03],[-2.21,.09],[-2.18,.03],[-2.15,.005],[-2.12,.05],[-2.1,.02],[-2.05,.005],[-2,.005]];
const j2055Gls1=[[-4,.09],[-3.55,.09],[-3.4,.075],[-3.2,.06],[-3,.05],[-2.8,.045],[-2.6,.05],[-2.5,.05],[-2.3,.035],[-2,.02]];
const j2055Gls2=[[-4,.17],[-3.7,.175],[-3.55,.18],[-3.45,.165],[-3.35,.14],[-3.25,.12],[-3.1,.11],[-3,.095],[-2.9,.09],[-2.85,.08],[-2.75,.095],[-2.65,.09],[-2.6,.12],[-2.55,.09],[-2.52,.125],[-2.4,.08],[-2.2,.06],[-2,.04]];
const j2055Gls3=[[-4,.24],[-3.75,.25],[-3.65,.25],[-3.56,.27],[-3.45,.26],[-3.38,.21],[-3.3,.22],[-3.2,.18],[-3.1,.17],[-3.06,.15],[-2.96,.18],[-2.87,.13],[-2.8,.13],[-2.7,.16],[-2.6,.19],[-2.55,.13],[-2.52,.17],[-2.45,.13],[-2.38,.11],[-2.25,.1],[-2.15,.085],[-2,.07]];
const j2055GlsRes=[[-4,.005],[-3.6,.005],[-3.45,.012],[-3.2,.008],[-3,.003],[-2.6,.005],[-2.55,.012],[-2,.003]];
const j2055Peaks=[["P=389day",-2.85,.497],["P=337day",-2.5,.55]];
const j2055Phase=[[-.48,.2],[-.47,.17],[-.46,.22],[-.45,.19],[-.44,.24],[-.43,.16],[-.42,.2],[-.41,.18],[-.4,.22],[-.39,.34],[-.38,.17],[-.37,.2],[-.36,.15],[-.35,.19],[-.34,.17],[-.33,.22],[-.32,.16],[-.31,.13],[-.3,.18],[-.29,.15],[-.28,.19],[-.27,.14],[-.26,.17],[-.25,.2],[-.24,.15],[-.23,.13],[-.22,.17],[-.21,.14],[-.2,.16],[-.19,.12],[-.18,.15],[-.17,.18],[-.16,.13],[-.15,.16],[-.14,.11],[-.13,.14],[-.12,.17],[-.11,.12],[-.1,.15],[-.09,.13],[-.08,.14],[-.07,.16],[-.06,.13],[-.05,.15],[.18,.18],[.2,.2],[.22,.18],[.23,.32],[.24,.21],[.26,.17],[.28,.2],[.29,.22],[.3,.18],[.31,.23],[.32,.16],[.33,.21],[.34,.19],[.35,.25],[.36,.18],[.37,.22],[.38,.2],[.39,.24],[.4,.17],[.41,.26],[.42,.2],[.43,.23],[.44,.18],[.45,.31],[.46,.22],[.47,.19],[.48,.24],[.49,.21],[.5,.27],[.51,.18],[.52,.23],[.53,.2],[.54,.22],[.55,.19],[.56,.26],[.57,.21],[.58,.33],[.59,.23],[.6,.19],[.61,.21],[.62,.18],[.63,.22],[.64,.2],[.65,.17],[.66,.19],[.67,.16],[.68,.2],[.69,.17],[.7,.19],[.72,.16],[.74,.18],[.76,.15],[.78,.17],[.8,.14],[.82,.16],[.84,.14]];
const j2055PhaseErr=[[-.39,.28,.36],[-.3,.14,.3],[.23,.28,.36],[.45,.25,.35],[.58,.28,.36],[.48,.1,.3],[.71,.15,.23],[-.2,.12,.22]];
const j2055PhaseCurve=[[-.5,.21],[-.42,.195],[-.32,.175],[-.22,.155],[-.12,.15],[-.02,.155],[.08,.17],[.18,.19],[.28,.205],[.38,.215],[.48,.213],[.58,.195],[.68,.175],[.78,.155],[.88,.15],[.98,.155],[1.08,.17],[1.18,.19],[1.28,.205],[1.38,.215],[1.5,.208]];
/* ---------- shared tick labels ---------- */
const glsYTicks=[0,.2,.4,.6,.8,1];
const glsXTicksWide=[-4,-3.75,-3.5,-3.25,-3,-2.75,-2.5,-2.25,-2];
const glsXTicksNarrow=[-3,-2.8,-2.6,-2.4,-2.2,-2];
const phaseXTicks=[-.5,-.25,0,.25,.5,.75,1,1.25,1.5];
const colorbarTicks=[-3,-2,-1,0];
const colorbarMinor=[2,3,4,5,6,7,8,9];

const columns=[
 {L:28.3,M:284.5,R:386.7,pl:28.3,pr:390},
 {L:430.7,M:686.7,R:789.3,pl:430,pr:787},
 {L:832.7,M:1089,R:1191.7,pl:832,pr:1188}];
const rowsY=[
 {title:11,lcT:13.3,split:86.7,hmB:209,cbT:233.3,cbB:245,pT:575,pB:680},
 {title:722,lcT:724.3,split:798.3,hmB:920,cbT:945,cbB:957.7,pT:1286,pB:1391}];

const panels=[
 {name:'J1440+0610',col:0,row:0,xlim:[55008,58292],xt:[55500,56000,56500,57000,57500,58000],lcY:[.199,1.449],lcT:[.25,.5,.75,1,1.25],lcFmt:2,hmY:[206,2500],hmT:[500,1000,1500,2000,2500],wx:[.208,1.027],wt:[.4,.6,.8,1],P:['P=507days'],lgX:3,gl:[38.3,374,274,525],glsX:[-4,-2],glsT:glsXTicksWide,pX:[-.6,1.4],pY:[.2,1.45],pXT:[-.5,-.25,0,.25,.5,.75,1,1.25],pYT:[.2,.4,.6,.8,1,1.2,1.4],pFmt:1,sparse:false,
  lc:j1440Lc,lcErr:j1440LcErr,sine:j1440Sine,hp:j1440HmPeriods,hr:j1440HmRows,con:j1440Contours,inner:j1440Inner,poly:j1440Polys,ridge:j1440Ridges,rd:j1440RidgeDots,wd:j1440WwzDots,wl:[j1440WwzLine],s1:j1440Sig1,s2:j1440Sig2,s3:j1440Sig3,dash:j1440Dash,g:j1440Gls,g1:j1440Gls1,g2:j1440Gls2,g3:j1440Gls3,gr:j1440GlsRes,pk:j1440Peaks,ph:j1440Phase,phE:j1440PhaseErr,phC:j1440PhaseCurve},
 {name:'J1555+1111',col:1,row:0,xlim:[55386,58304],xt:[55500,56000,56500,57000,57500,58000],lcY:[-.35,12.6],lcT:[0,2.5,5,7.5,10,12.5],lcFmt:1,hmY:[206,2500],hmT:[500,1000,1500,2000,2500],wx:[.178,1.045],wt:[.2,.4,.6,.8,1],P:['P=444days'],lgX:3,gl:[440.7,779,273.3,525],glsX:[-3,-2],glsT:glsXTicksNarrow,pX:[-.5,1.5],pY:[4.4,12.2],pXT:phaseXTicks,pYT:[5,6,7,8,9,10,11,12],pFmt:0,sparse:false,
  lc:j1555Lc,lcErr:j1555LcErr,sine:j1555Sine,hp:j1555HmPeriods,hr:j1555HmRows,con:j1555Contours,inner:j1555Inner,poly:j1555Polys,ridge:j1555Ridges,rd:j1555RidgeDots,wd:j1555WwzDots,wl:[j1555WwzLine,j1555WwzLine2],s1:j1555Sig1,s2:j1555Sig2,s3:j1555Sig3,dash:j1555Dash,g:j1555Gls,g1:j1555Gls1,g2:j1555Gls2,g3:j1555Gls3,gr:j1555GlsRes,pk:j1555Peaks,ph:j1555Phase,phE:j1555PhaseErr,phC:j1555PhaseCurve},
 {name:'J1635+3808',col:2,row:0,xlim:[55800,59072],xt:[56000,56500,57000,57500,58000,58500,59000],lcY:[.143,1.68],lcT:[.5,1,1.5],lcFmt:1,hmY:[200,1800],hmT:[200,400,600,800,1000,1200,1400,1600,1800],wx:[.17,1.04],wt:[.2,.4,.6,.8,1],P:['P=588days'],lgX:3,gl:[842.3,1179,274.7,525],glsX:[-4,-2],glsT:glsXTicksWide,pX:[-.5,1.5],pY:[.2,1.67],pXT:phaseXTicks,pYT:[.2,.4,.6,.8,1,1.2,1.4,1.6],pFmt:1,sparse:false,
  lc:j1635Lc,lcErr:j1635LcErr,sine:j1635Sine,hp:j1635HmPeriods,hr:j1635HmRows,con:j1635Contours,inner:j1635Inner,poly:j1635Polys,ridge:j1635Ridges,rd:j1635RidgeDots,wd:j1635WwzDots,wl:[j1635WwzLine,j1635WwzLine2],s1:j1635Sig1,s2:j1635Sig2,s3:j1635Sig3,dash:j1635Dash,g:j1635Gls,g1:j1635Gls1,g2:j1635Gls2,g3:j1635Gls3,gr:j1635GlsRes,pk:j1635Peaks,ph:j1635Phase,phE:j1635PhaseErr,phC:j1635PhaseCurve},
 {name:'J1642+3948',col:0,row:1,xlim:[55371,58371],xt:[55500,56000,56500,57000,57500,58000],lcY:[.085,.967],lcT:[.2,.4,.6,.8],lcFmt:1,hmY:[220,2500],hmT:[500,1000,1500,2000,2500],wx:[.166,1.03],wt:[.2,.4,.6,.8,1],P:['P=338day','P=432days'],lgX:2,gl:[38.3,374,985,1236],glsX:[-4,-2],glsT:glsXTicksWide,pX:[-.5,1.5],pY:[.015,.9],pXT:phaseXTicks,pYT:[.2,.4,.6,.8],pFmt:1,sparse:false,
  lc:j1642Lc,lcErr:j1642LcErr,sine:j1642Sine,hp:j1642HmPeriods,hr:j1642HmRows,con:j1642Contours,inner:j1642Inner,poly:j1642Polys,ridge:j1642Ridges,rd:j1642RidgeDots,wd:j1642WwzDots,wl:[j1642WwzLine,j1642WwzLine2],s1:j1642Sig1,s2:j1642Sig2,s3:j1642Sig3,dash:j1642Dash,g:j1642Gls,g1:j1642Gls1,g2:j1642Gls2,g3:j1642Gls3,gr:j1642GlsRes,pk:j1642Peaks,ph:j1642Phase,phE:j1642PhaseErr,phC:j1642PhaseCurve},
 {name:'J1740+5211',col:1,row:1,xlim:[55777,59131],xt:[56000,56500,57000,57500,58000,58500,59000],lcY:[.006,.65],lcT:[.2,.4,.6],lcFmt:1,hmY:[220,2500],hmT:[500,1000,1500,2000,2500],wx:[.09,1.04],wt:[.2,.4,.6,.8,1],P:['P=452days'],lgX:26,gl:[440,776.7,985,1235],glsX:[-4,-2],glsT:glsXTicksWide,pX:[-.5,1.5],pY:[.02,.63],pXT:phaseXTicks,pYT:[.1,.2,.3,.4,.5,.6],pFmt:1,sparse:true,
  lc:j1740Lc,lcErr:j1740LcErr,sine:j1740Sine,hp:j1740HmPeriods,hr:j1740HmRows,con:j1740Contours,inner:j1740Inner,poly:j1740Polys,ridge:j1740Ridges,rd:j1740RidgeDots,wd:j1740WwzDots,wl:[j1740WwzLine],s1:j1740Sig1,s2:j1740Sig2,s3:j1740Sig3,dash:j1740Dash,g:j1740Gls,g1:j1740Gls1,g2:j1740Gls2,g3:j1740Gls3,gr:j1740GlsRes,pk:j1740Peaks,ph:j1740Phase,phE:j1740PhaseErr,phC:j1740PhaseCurve},
 {name:'J2055-0021',col:2,row:1,xlim:[55808,59085],xt:[56000,56500,57000,57500,58000,58500,59000],lcY:[.066,.397],lcT:[.1,.2,.3],lcFmt:1,hmY:[220,2500],hmT:[500,1000,1500,2000,2500],wx:[.098,1.046],wt:[.2,.4,.6,.8,1],P:['P=442days'],lgX:3,gl:[842,1179,985,1236],glsX:[-4,-2],glsT:glsXTicksWide,pX:[-.5,1.5],pY:[.066,.39],pXT:phaseXTicks,pYT:[.1,.15,.2,.25,.3,.35],pFmt:2,sparse:true,
  lc:j2055Lc,lcErr:j2055LcErr,sine:j2055Sine,hp:j2055HmPeriods,hr:j2055HmRows,con:j2055Contours,inner:j2055Inner,poly:j2055Polys,ridge:j2055Ridges,rd:j2055RidgeDots,wd:j2055WwzDots,wl:[j2055WwzLine,j2055WwzLine2],s1:j2055Sig1,s2:j2055Sig2,s3:j2055Sig3,dash:j2055Dash,g:j2055Gls,g1:j2055Gls1,g2:j2055Gls2,g3:j2055Gls3,gr:j2055GlsRes,pk:j2055Peaks,ph:j2055Phase,phE:j2055PhaseErr,phC:j2055PhaseCurve}];

const NS='http://www.w3.org/2000/svg';
const svg=document.getElementById('fig');
const defs=document.getElementById('defs');
let uid=0;
function mk(parent,tag,attrs,name,text){
  const node=document.createElementNS(NS,tag);
  for(const k in attrs)node.setAttribute(k,attrs[k]);
  
  
  if(text!==undefined)node.textContent=text;
  parent.appendChild(node);
  return node;
}
function scale(d0,d1,r0,r1){return v=>r0+(v-d0)/(d1-d0)*(r1-r0);}
function jet(t){
  const c=x=>Math.max(0,Math.min(1,x));
  const r=c(1.5-Math.abs(4*t-3)),g=c(1.5-Math.abs(4*t-2)),b=c(1.5-Math.abs(4*t-1));
  return 'rgb('+Math.round(r*255)+','+Math.round(g*255)+','+Math.round(b*255)+')';
}
function smooth(pts){
  if(!pts.length)return'';
  let d='M'+pts[0][0].toFixed(2)+' '+pts[0][1].toFixed(2);
  for(let i=0;i<pts.length-1;i++){
    const p0=pts[Math.max(0,i-1)],p1=pts[i],p2=pts[i+1],p3=pts[Math.min(pts.length-1,i+2)];
    const c1=[p1[0]+(p2[0]-p0[0])/6,p1[1]+(p2[1]-p0[1])/6],c2=[p2[0]-(p3[0]-p1[0])/6,p2[1]-(p3[1]-p1[1])/6];
    d+='C'+c1[0].toFixed(2)+' '+c1[1].toFixed(2)+' '+c2[0].toFixed(2)+' '+c2[1].toFixed(2)+' '+p2[0].toFixed(2)+' '+p2[1].toFixed(2);
  }
  return d;
}
function clip(x,y,w,h){
  const id='c'+(uid++);
  const cp=document.createElementNS(NS,'clipPath');cp.setAttribute('id',id);
  const r=document.createElementNS(NS,'rect');r.setAttribute('x',x);r.setAttribute('y',y);r.setAttribute('width',w);r.setAttribute('height',h);
  cp.appendChild(r);defs.appendChild(cp);
  return 'url(#'+id+')';
}
function frame(g,x0,y0,x1,y1,name,sw){
  mk(g,'rect',{x:x0,y:y0,width:x1-x0,height:y1-y0,fill:'none',stroke:'#666',"stroke-width":sw||1},name);
}
function fmtMinus(s){return s.replace('-','\u2212');}

function heatmap(g,p,x0,x1,y0,y1,yS){
  const inv=scale(y0,y1,p.hmY[1],p.hmY[0]);
  const full=p.hr.map(r=>r.length===1?new Array(11).fill(r[0]):r);
  for(let y=Math.floor(y0);y<y1;y++){
    const per=inv(y+.5);
    let i=0;while(i<p.hp.length-2&&p.hp[i+1]>per)i++;
    const f=Math.max(0,Math.min(1,(p.hp[i]-per)/(p.hp[i]-p.hp[i+1])));
    const id='hg'+(uid++);
    const lg=document.createElementNS(NS,'linearGradient');lg.setAttribute('id',id);
    for(let c=0;c<11;c++){
      const v=full[i][c]+(full[i+1][c]-full[i][c])*f;
      const nv=c<10?(full[i][c+1]+(full[i+1][c+1]-full[i][c+1])*f):v;
      for(let s=0;s<2;s++){
        if(c===10&&s===1)break;
        const st=document.createElementNS(NS,'stop');
        st.setAttribute('offset',((c+s/2)/10).toFixed(3));
        st.setAttribute('stop-color',jet((v+(nv-v)*s/2)/100));
        lg.appendChild(st);
      }
    }
    defs.appendChild(lg);
    mk(g,'rect',{x:x0,y:Math.max(y,y0),width:x1-x0,height:1.3,fill:'url(#'+id+')'},'heatmap-row');
  }
}

function drawPanel(p){
  const c=columns[p.col],r=rowsY[p.row];
  const G=mk(svg,'g',{},'panel-'+p.name.toLowerCase().replace('+','p').replace('-','m'));
  mk(G,'text',{x:(c.L+c.M)/2,y:r.title,"text-anchor":"middle","font-size":13.4},'panel-title',p.name);
  const X=scale(p.xlim[0],p.xlim[1],c.L,c.M);

  /* light curve */
  const lg=mk(G,'g',{},'light-curve');
  const lcY=scale(p.lcY[0],p.lcY[1],r.split,r.lcT);
  const lclip=clip(c.L,r.lcT,c.M-c.L,r.split-r.lcT);
  const lm=mk(lg,'g',{"clip-path":lclip},'light-curve-marks');
  p.lcErr.forEach(e=>{mk(lm,'line',{x1:X(e[0]),x2:X(e[0]),y1:lcY(e[1]),y2:lcY(e[2]),stroke:'#111',"stroke-width":.9},'flux-error-bar');});
  p.lc.forEach(q=>{mk(lm,'circle',{cx:X(q[0]).toFixed(2),cy:lcY(q[1]).toFixed(2),r:1.7,fill:'#000'},'flux-point');});
  mk(lm,'path',{d:smooth(p.sine.map(q=>[X(q[0]),lcY(q[1])])),fill:'none',stroke:'#0000ff',"stroke-width":1.1},'sine-fit');
  p.lcT.forEach(t=>{
    const y=lcY(t);
    if(y>r.split+.1)return;
    mk(lg,'line',{x1:c.L-1.5,x2:c.L,y1:y,y2:y,stroke:'#444',"stroke-width":.5},'lc-y-tick');
    mk(lg,'text',{x:c.L-2.5,y:y+1.8,"text-anchor":"end","font-size":5},'lc-y-label',t.toFixed(p.lcFmt));
  });
  mk(lg,'text',{x:0,y:0,transform:'translate('+(c.L-19)+','+((r.lcT+r.split)/2)+') rotate(-90)',"text-anchor":"middle","font-size":5},'lc-y-title','Flux Density [mJy]');
  frame(lg,c.L,r.lcT,c.M,r.split,'light-curve-frame');

  /* heatmap */
  const hg=mk(G,'g',{},'wwz-heatmap');
  const hY=scale(p.hmY[0],p.hmY[1],r.hmB,r.split);
  const hclip=clip(c.L,r.split,c.M-c.L,r.hmB-r.split);
  const hm=mk(hg,'g',{"clip-path":hclip},'heatmap-cells');
  heatmap(hm,p,c.L,c.M,r.split,r.hmB,hY);
  p.con.forEach(e=>{mk(hm,'ellipse',{cx:X(e[0]),cy:hY(e[1]),rx:Math.abs(X(e[0]+e[2])-X(e[0])),ry:Math.abs(hY(e[1]+e[3])-hY(e[1])),fill:'none',stroke:'#15157a',"stroke-width":.9},'wwz-contour');});
  p.inner.forEach(e=>{mk(hm,'ellipse',{cx:X(e[0]),cy:hY(e[1]),rx:Math.abs(X(e[0]+e[2])-X(e[0])),ry:Math.abs(hY(e[1]+e[3])-hY(e[1])),fill:'none',stroke:p.name==='J2055-0021'?'#ffd400':'#a01818',"stroke-width":.8},'wwz-inner-contour');});
  p.poly.forEach(e=>{mk(hm,'path',{d:smooth(e.map(q=>[X(q[0]),hY(q[1])])),fill:'none',stroke:'#15157a',"stroke-width":.9},'wwz-contour-path');});
  p.ridge.forEach(e=>{mk(hm,'path',{d:smooth(e.map(q=>[X(q[0]),hY(q[1])])),fill:'none',stroke:'#1f8ac0',"stroke-width":2},'wwz-ridge');});
  p.rd.forEach(q=>{mk(hm,'circle',{cx:X(q[0]),cy:hY(q[1]),r:1.1,fill:'#1f8ac0'},'wwz-ridge-dot');});
  p.xt.forEach(t=>{
    mk(hg,'line',{x1:X(t),x2:X(t),y1:r.hmB,y2:r.hmB+1.5,stroke:'#444',"stroke-width":.5},'heatmap-x-tick');
    mk(hg,'text',{x:X(t),y:r.hmB+7,"text-anchor":"middle","font-size":5.3},'heatmap-x-label',String(t));
  });
  p.hmT.forEach(t=>{
    mk(hg,'line',{x1:c.L-1.5,x2:c.L,y1:hY(t),y2:hY(t),stroke:'#444',"stroke-width":.5},'heatmap-y-tick');
    mk(hg,'text',{x:c.L-2.5,y:hY(t)+1.8,"text-anchor":"end","font-size":5},'heatmap-y-label',String(t));
  });
  mk(hg,'text',{x:(c.L+c.M)/2,y:r.hmB+15.5,"text-anchor":"middle","font-size":5.3},'heatmap-x-title','MJD(days)');
  mk(hg,'text',{x:0,y:0,transform:'translate('+(c.L-21)+','+((r.split+r.hmB)/2)+') rotate(-90)',"text-anchor":"middle","font-size":5},'heatmap-y-title','Period [days]');
  frame(hg,c.L,r.split,c.M,r.hmB,'heatmap-frame');

  /* mean wwz */
  const wg=mk(G,'g',{},'mean-wwz');
  const wX=scale(p.wx[0],p.wx[1],c.M,c.R);
  const wclip=clip(c.M,r.split,c.R-c.M,r.hmB-r.split);
  const wm=mk(wg,'g',{"clip-path":wclip},'mean-wwz-marks');
  [[p.s1,'#ff9a4a','sigma-1-curve'],[p.s2,'#2ca02c','sigma-2-curve'],[p.s3,'#d62728','sigma-3-curve']].forEach(s=>{
    mk(wm,'path',{d:smooth(s[0].map(q=>[wX(q[0]),hY(q[1])])),fill:'none',stroke:s[1],"stroke-width":.9,"stroke-dasharray":"1.6 .6"},s[2]);
  });
  if(p.sparse){
    p.wd.forEach(q=>{mk(wm,'circle',{cx:wX(q[0]),cy:hY(q[1]),r:1.1,fill:'#1f6fb0'},'mean-wwz-dot');});
  }else{
    mk(wm,'path',{d:smooth(p.wd.map(q=>[wX(q[0]),hY(q[1])])),fill:'none',stroke:'#1f6fb0',"stroke-width":2.2,"stroke-linecap":"round","stroke-dasharray":"0 3.6"},'mean-wwz-dotted');
  }
  p.wl.forEach(l=>{mk(wm,'path',{d:smooth(l.map(q=>[wX(q[0]),hY(q[1])])),fill:'none',stroke:'#1f6fb0',"stroke-width":2.8},'mean-wwz-curve');});
  p.dash.forEach(v=>{mk(wm,'line',{x1:c.M,x2:c.R,y1:hY(v),y2:hY(v),stroke:'#ff1a1a',"stroke-width":1.2,"stroke-dasharray":"3.5 1.5"},'period-marker');});
  const lh=8;
  const items=[['1\u03c3','#ff9a4a'],['2\u03c3','#2ca02c'],['3\u03c3','#d62728']];
  const lx=c.M+p.lgX, ly=r.split+1.5;
  mk(wg,'rect',{x:lx,y:ly,width:50,height:(items.length+p.P.length)*lh+2,fill:'#fff',"fill-opacity":.8,stroke:'#ddd',"stroke-width":.5,rx:1},'mean-wwz-legend');
  items.forEach((it,i)=>{
    const y=ly+5+i*lh;
    mk(wg,'circle',{cx:lx+8,cy:y,r:.6,fill:it[1]},'legend-marker');
    mk(wg,'text',{x:lx+18,y:y+1.8,"font-size":5},'legend-label',it[0]);
  });
  p.P.forEach((t,i)=>{
    const y=ly+5+(3+i)*lh;
    mk(wg,'line',{x1:lx+3,x2:lx+13,y1:y,y2:y,stroke:'#ff1a1a',"stroke-width":1},'legend-period-line');
    mk(wg,'text',{x:lx+18,y:y+1.8,"font-size":5},'legend-period-label',t);
  });
  p.wt.forEach(t=>{
    mk(wg,'line',{x1:wX(t),x2:wX(t),y1:r.hmB,y2:r.hmB+1.5,stroke:'#444',"stroke-width":.5},'wwz-x-tick');
    mk(wg,'text',{x:wX(t),y:r.hmB+7,"text-anchor":"middle","font-size":5.3},'wwz-x-label',t.toFixed(1));
  });
  mk(wg,'text',{x:(c.M+c.R)/2,y:r.hmB+15.5,"text-anchor":"middle","font-size":5.3},'wwz-x-title','Mean WWZ');
  frame(wg,c.M,r.split,c.R,r.hmB,'mean-wwz-frame');

  /* colorbar */
  const cg=mk(G,'g',{},'colorbar');
  const gid='cb'+(uid++);
  const lgd=document.createElementNS(NS,'linearGradient');lgd.setAttribute('id',gid);
  for(let i=0;i<=32;i++){
    const st=document.createElementNS(NS,'stop');st.setAttribute('offset',i/32);st.setAttribute('stop-color',jet(i/32));lgd.appendChild(st);
  }
  defs.appendChild(lgd);
  mk(cg,'rect',{x:c.L,y:r.cbT,width:c.R-c.L,height:r.cbB-r.cbT,fill:'url(#'+gid+')',stroke:'#666',"stroke-width":.8},'colorbar-ramp');
  const cbX=scale(-3,0,c.L,c.R);
  colorbarTicks.forEach(t=>{
    mk(cg,'line',{x1:cbX(t),x2:cbX(t),y1:r.cbB,y2:r.cbB+2,stroke:'#444',"stroke-width":.5},'colorbar-tick');
    const tx=mk(cg,'text',{x:cbX(t),y:r.cbB+7.5,"text-anchor":"middle","font-size":5},'colorbar-label','10');
    mk(tx,'tspan',{dy:-2,"font-size":3.6},'colorbar-exponent',fmtMinus(String(t)));
    if(t<0)colorbarMinor.forEach(m=>{
      const mx=cbX(t+Math.log10(m));
      mk(cg,'line',{x1:mx,x2:mx,y1:r.cbB,y2:r.cbB+1.1,stroke:'#666',"stroke-width":.4},'colorbar-minor-tick');
    });
  });

  /* GLS */
  const gg=mk(G,'g',{},'gls-periodogram');
  const [gx0,gx1,gy0,gy1]=p.gl;
  const gX=scale(p.glsX[0],p.glsX[1],gx0,gx1),gY=scale(0,1,gy1,gy0);
  const gm=mk(gg,'g',{"clip-path":clip(gx0,gy0,gx1-gx0,gy1-gy0)},'gls-curves');
  const gs=[[p.g1,'#ffb347',.5,'1.3 .7','gls-sigma-1'],[p.g2,'#b85c5c',.5,'1.3 .7','gls-sigma-2'],[p.g3,'#ff2020',.85,'1.3 .9','gls-sigma-3'],[p.gr,'#3a3aff',.85,'1.3 .9','gls-residual']];
  gs.forEach(s=>{mk(gm,'path',{d:smooth(s[0].map(q=>[gX(q[0]),gY(q[1])])),fill:'none',stroke:s[1],"stroke-width":1,"stroke-opacity":s[2],"stroke-dasharray":s[3]},s[4]);});
  mk(gm,'path',{d:smooth(p.g.map(q=>[gX(q[0]),gY(q[1])])),fill:'none',stroke:'#000',"stroke-width":1.4},'gls-power');
  p.pk.forEach(a=>{mk(gg,'text',{x:gX(a[1]),y:gY(a[2]),"font-size":9.6},'gls-peak-label',a[0]);});
  p.glsT.forEach(t=>{
    mk(gg,'line',{x1:gX(t),x2:gX(t),y1:gy1,y2:gy1-2.5,stroke:'#333',"stroke-width":.6},'gls-x-tick');
    mk(gg,'line',{x1:gX(t),x2:gX(t),y1:gy0,y2:gy0+2.5,stroke:'#333',"stroke-width":.6},'gls-x-tick-top');
    mk(gg,'text',{x:gX(t),y:gy1+9.5,"text-anchor":"middle","font-size":8.4},'gls-x-label',fmtMinus(t.toFixed(p.glsT===glsXTicksWide?2:1)));
  });
  glsYTicks.forEach(t=>{
    mk(gg,'line',{x1:gx0,x2:gx0+2.5,y1:gY(t),y2:gY(t),stroke:'#333',"stroke-width":.6},'gls-y-tick');
    mk(gg,'line',{x1:gx1,x2:gx1-2.5,y1:gY(t),y2:gY(t),stroke:'#333',"stroke-width":.6},'gls-y-tick-right');
    mk(gg,'text',{x:gx0-2.5,y:gY(t)+3,"text-anchor":"end","font-size":8.4},'gls-y-label',t.toFixed(1));
  });
  mk(gg,'text',{x:(gx0+gx1)/2,y:gy1+23.5,"text-anchor":"middle","font-size":8.8},'gls-x-title','Log[Frequency]');
  mk(gg,'text',{x:0,y:0,transform:'translate('+(gx0-23.5)+','+((gy0+gy1)/2)+') rotate(-90)',"text-anchor":"middle","font-size":8.8},'gls-y-title','Power');
  frame(gg,gx0,gy0,gx1,gy1,'gls-frame',1.1);
  const bx=gx1-59,by=gy0+1.5;
  mk(gg,'rect',{x:bx,y:by,width:55.5,height:75.5,fill:'#fff',"fill-opacity":.85,stroke:'#ccc',"stroke-width":.7,rx:1.5},'gls-legend');
  const leg=[['GLS','#000',1.5,'none',1],['1\u03c3','#ffb347',1,'1.3 .7',.5],['2\u03c3','#b85c5c',1,'1.3 .7',.5],['3\u03c3','#ff2020',1,'1.3 .9',.85],['res','#3a3aff',1,'1.3 .9',.85]];
  leg.forEach((l,i)=>{
    const y=by+12+i*14;
    mk(gg,'line',{x1:bx+4,x2:bx+18,y1:y,y2:y,stroke:l[1],"stroke-width":l[2],"stroke-dasharray":l[3],"stroke-opacity":l[4]},'gls-legend-line');
    mk(gg,'text',{x:bx+30,y:y+3,"font-size":8.8},'gls-legend-label',l[0]);
  });

  /* phase */
  const pg=mk(G,'g',{},'phase-folded');
  const pX=scale(p.pX[0],p.pX[1],c.pl,c.pr),pY=scale(p.pY[0],p.pY[1],r.pB,r.pT);
  const pm=mk(pg,'g',{"clip-path":clip(c.pl,r.pT,c.pr-c.pl,r.pB-r.pT)},'phase-marks');
  [0,1].forEach(k=>{
    p.phE.forEach(e=>{mk(pm,'line',{x1:pX(e[0]+k),x2:pX(e[0]+k),y1:pY(e[1]),y2:pY(e[2]),stroke:'#d8d8d8',"stroke-width":.8},'phase-error-bar');});
    p.ph.forEach(q=>{mk(pm,'circle',{cx:pX(q[0]+k).toFixed(2),cy:pY(q[1]).toFixed(2),r:1.35,fill:'#7f7f7f'},'phase-point');});
  });
  mk(pm,'path',{d:smooth(p.phC.map(q=>[pX(q[0]),pY(q[1])])),fill:'none',stroke:'#000',"stroke-width":1.2},'phase-model');
  p.pXT.forEach(t=>{
    mk(pg,'line',{x1:pX(t),x2:pX(t),y1:r.pB,y2:r.pB+1.8,stroke:'#444',"stroke-width":.5},'phase-x-tick');
    mk(pg,'text',{x:pX(t),y:r.pB+7.5,"text-anchor":"middle","font-size":6.4},'phase-x-label',fmtMinus(t.toFixed(2)));
  });
  p.pYT.forEach(t=>{
    mk(pg,'line',{x1:c.pl-1.8,x2:c.pl,y1:pY(t),y2:pY(t),stroke:'#444',"stroke-width":.5},'phase-y-tick');
    mk(pg,'text',{x:c.pl-2.8,y:pY(t)+2.3,"text-anchor":"end","font-size":6.4},'phase-y-label',t.toFixed(p.pFmt));
  });
  mk(pg,'text',{x:(c.pl+c.pr)/2,y:r.pB+16,"text-anchor":"middle","font-size":6.4},'phase-x-title','Phase');
  mk(pg,'text',{x:0,y:0,transform:'translate('+(c.pl-20)+','+((r.pT+r.pB)/2)+') rotate(-90)',"text-anchor":"middle","font-size":6.4},'phase-y-title','Flux');
  mk(pg,'text',{x:(c.pl+c.pr)/2,y:r.pT-3,"text-anchor":"middle","font-size":7.8},'phase-title',p.name);
  frame(pg,c.pl,r.pT,c.pr,r.pB,'phase-frame');
}
panels.forEach(drawPanel);
</script>
</body></html>
